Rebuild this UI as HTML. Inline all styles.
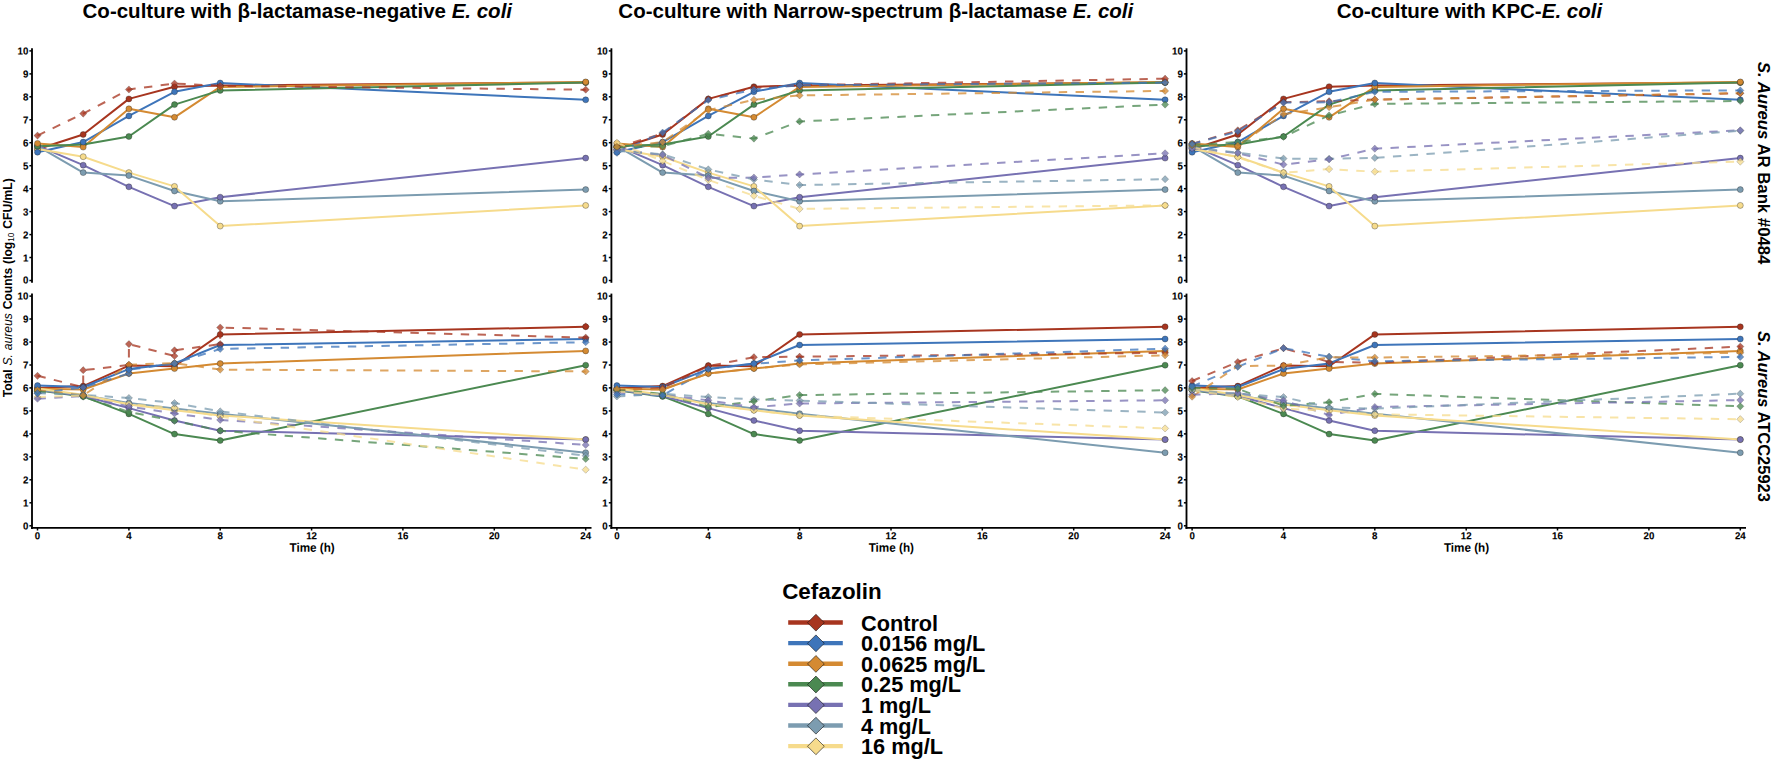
<!DOCTYPE html>
<html lang="en"><head><meta charset="utf-8"><title>Cefazolin co-culture time-kill curves</title>
<style>html,body{margin:0;padding:0;background:#fff}body{width:1772px;height:762px;overflow:hidden}svg{display:block}</style></head>
<body>
<svg width="1772" height="762" viewBox="0 0 1772 762" font-family="'Liberation Sans', sans-serif" font-weight="bold" fill="#000">
<rect width="1772" height="762" fill="#fff"/>
<polyline points="37.5,149.2 83.2,134.5 128.9,98.9 174.5,86.7 220.2,85.6 585.7,82.4" fill="none" stroke="#A7351F" stroke-width="2.0" stroke-linejoin="round"/>
<polyline points="37.5,152.2 83.2,142.1 128.9,115.9 174.5,91.8 220.2,83.0 585.7,99.8" fill="none" stroke="#3E75BA" stroke-width="2.0" stroke-linejoin="round"/>
<polyline points="37.5,143.4 83.2,147.1 128.9,108.8 174.5,117.3 220.2,86.9 585.7,81.9" fill="none" stroke="#D48A32" stroke-width="2.0" stroke-linejoin="round"/>
<polyline points="37.5,146.2 83.2,144.6 128.9,136.5 174.5,104.6 220.2,90.4 585.7,82.6" fill="none" stroke="#4B8951" stroke-width="2.0" stroke-linejoin="round"/>
<polyline points="37.5,145.7 83.2,165.2 128.9,186.8 174.5,206.1 220.2,197.2 585.7,158.1" fill="none" stroke="#7771B2" stroke-width="2.0" stroke-linejoin="round"/>
<polyline points="37.5,146.2 83.2,172.6 128.9,175.6 174.5,191.0 220.2,201.3 585.7,189.6" fill="none" stroke="#7C9CB0" stroke-width="2.0" stroke-linejoin="round"/>
<polyline points="37.5,148.9 83.2,156.7 128.9,172.6 174.5,186.4 220.2,226.1 585.7,205.4" fill="none" stroke="#F6DB8C" stroke-width="2.0" stroke-linejoin="round"/>
<circle cx="37.5" cy="149.2" r="3.0" fill="#A7351F" stroke="#222" stroke-width="0.35"/>
<circle cx="83.2" cy="134.5" r="3.0" fill="#A7351F" stroke="#222" stroke-width="0.35"/>
<circle cx="128.9" cy="98.9" r="3.0" fill="#A7351F" stroke="#222" stroke-width="0.35"/>
<circle cx="174.5" cy="86.7" r="3.0" fill="#A7351F" stroke="#222" stroke-width="0.35"/>
<circle cx="220.2" cy="85.6" r="3.0" fill="#A7351F" stroke="#222" stroke-width="0.35"/>
<circle cx="585.7" cy="82.4" r="3.0" fill="#A7351F" stroke="#222" stroke-width="0.35"/>
<circle cx="37.5" cy="148.9" r="3.0" fill="#F6DB8C" stroke="#222" stroke-width="0.35"/>
<circle cx="83.2" cy="156.7" r="3.0" fill="#F6DB8C" stroke="#222" stroke-width="0.35"/>
<circle cx="128.9" cy="172.6" r="3.0" fill="#F6DB8C" stroke="#222" stroke-width="0.35"/>
<circle cx="174.5" cy="186.4" r="3.0" fill="#F6DB8C" stroke="#222" stroke-width="0.35"/>
<circle cx="220.2" cy="226.1" r="3.0" fill="#F6DB8C" stroke="#222" stroke-width="0.35"/>
<circle cx="585.7" cy="205.4" r="3.0" fill="#F6DB8C" stroke="#222" stroke-width="0.35"/>
<circle cx="37.5" cy="146.2" r="3.0" fill="#7C9CB0" stroke="#222" stroke-width="0.35"/>
<circle cx="83.2" cy="172.6" r="3.0" fill="#7C9CB0" stroke="#222" stroke-width="0.35"/>
<circle cx="128.9" cy="175.6" r="3.0" fill="#7C9CB0" stroke="#222" stroke-width="0.35"/>
<circle cx="174.5" cy="191.0" r="3.0" fill="#7C9CB0" stroke="#222" stroke-width="0.35"/>
<circle cx="220.2" cy="201.3" r="3.0" fill="#7C9CB0" stroke="#222" stroke-width="0.35"/>
<circle cx="585.7" cy="189.6" r="3.0" fill="#7C9CB0" stroke="#222" stroke-width="0.35"/>
<circle cx="37.5" cy="145.7" r="3.0" fill="#7771B2" stroke="#222" stroke-width="0.35"/>
<circle cx="83.2" cy="165.2" r="3.0" fill="#7771B2" stroke="#222" stroke-width="0.35"/>
<circle cx="128.9" cy="186.8" r="3.0" fill="#7771B2" stroke="#222" stroke-width="0.35"/>
<circle cx="174.5" cy="206.1" r="3.0" fill="#7771B2" stroke="#222" stroke-width="0.35"/>
<circle cx="220.2" cy="197.2" r="3.0" fill="#7771B2" stroke="#222" stroke-width="0.35"/>
<circle cx="585.7" cy="158.1" r="3.0" fill="#7771B2" stroke="#222" stroke-width="0.35"/>
<circle cx="37.5" cy="146.2" r="3.0" fill="#4B8951" stroke="#222" stroke-width="0.35"/>
<circle cx="83.2" cy="144.6" r="3.0" fill="#4B8951" stroke="#222" stroke-width="0.35"/>
<circle cx="128.9" cy="136.5" r="3.0" fill="#4B8951" stroke="#222" stroke-width="0.35"/>
<circle cx="174.5" cy="104.6" r="3.0" fill="#4B8951" stroke="#222" stroke-width="0.35"/>
<circle cx="220.2" cy="90.4" r="3.0" fill="#4B8951" stroke="#222" stroke-width="0.35"/>
<circle cx="585.7" cy="82.6" r="3.0" fill="#4B8951" stroke="#222" stroke-width="0.35"/>
<circle cx="37.5" cy="143.4" r="3.0" fill="#D48A32" stroke="#222" stroke-width="0.35"/>
<circle cx="83.2" cy="147.1" r="3.0" fill="#D48A32" stroke="#222" stroke-width="0.35"/>
<circle cx="128.9" cy="108.8" r="3.0" fill="#D48A32" stroke="#222" stroke-width="0.35"/>
<circle cx="174.5" cy="117.3" r="3.0" fill="#D48A32" stroke="#222" stroke-width="0.35"/>
<circle cx="220.2" cy="86.9" r="3.0" fill="#D48A32" stroke="#222" stroke-width="0.35"/>
<circle cx="585.7" cy="81.9" r="3.0" fill="#D48A32" stroke="#222" stroke-width="0.35"/>
<circle cx="37.5" cy="152.2" r="3.0" fill="#3E75BA" stroke="#222" stroke-width="0.35"/>
<circle cx="83.2" cy="142.1" r="3.0" fill="#3E75BA" stroke="#222" stroke-width="0.35"/>
<circle cx="128.9" cy="115.9" r="3.0" fill="#3E75BA" stroke="#222" stroke-width="0.35"/>
<circle cx="174.5" cy="91.8" r="3.0" fill="#3E75BA" stroke="#222" stroke-width="0.35"/>
<circle cx="220.2" cy="83.0" r="3.0" fill="#3E75BA" stroke="#222" stroke-width="0.35"/>
<circle cx="585.7" cy="99.8" r="3.0" fill="#3E75BA" stroke="#222" stroke-width="0.35"/>
<g>
<polyline points="37.5,135.6 83.2,113.6 128.9,89.5 174.5,83.5 220.2,85.8 585.7,89.7" fill="none" stroke="#A7351F" stroke-width="2.0" stroke-dasharray="8.4 8.4" stroke-opacity="0.76"/>
<path d="M37.5 132.0L41.1 135.6L37.5 139.2L33.9 135.6Z" fill="#A7351F" fill-opacity="0.76" stroke="#222" stroke-opacity="0.6" stroke-width="0.35"/>
<path d="M83.2 110.0L86.8 113.6L83.2 117.2L79.6 113.6Z" fill="#A7351F" fill-opacity="0.76" stroke="#222" stroke-opacity="0.6" stroke-width="0.35"/>
<path d="M128.9 85.9L132.5 89.5L128.9 93.1L125.3 89.5Z" fill="#A7351F" fill-opacity="0.76" stroke="#222" stroke-opacity="0.6" stroke-width="0.35"/>
<path d="M174.5 79.9L178.1 83.5L174.5 87.1L170.9 83.5Z" fill="#A7351F" fill-opacity="0.76" stroke="#222" stroke-opacity="0.6" stroke-width="0.35"/>
<path d="M220.2 82.2L223.8 85.8L220.2 89.4L216.6 85.8Z" fill="#A7351F" fill-opacity="0.76" stroke="#222" stroke-opacity="0.6" stroke-width="0.35"/>
<path d="M585.7 86.1L589.3 89.7L585.7 93.3L582.1 89.7Z" fill="#A7351F" fill-opacity="0.76" stroke="#222" stroke-opacity="0.6" stroke-width="0.35"/>
</g>
<path d="M32.0 48.3V282.8" stroke="#000" stroke-width="1.85" fill="none"/>
<path d="M32.0 280.5h-2.6" stroke="#000" stroke-width="1.5"/>
<text transform="translate(28.3 283.5) rotate(0.05) scale(1 1.05)" font-size="9.7" text-anchor="end" stroke="#000" stroke-width="0.12">0</text>
<path d="M32.0 257.5h-2.6" stroke="#000" stroke-width="1.5"/>
<text transform="translate(28.3 261.5) rotate(0.05) scale(1 1.05)" font-size="9.7" text-anchor="end" stroke="#000" stroke-width="0.12">1</text>
<path d="M32.0 234.6h-2.6" stroke="#000" stroke-width="1.5"/>
<text transform="translate(28.3 238.5) rotate(0.05) scale(1 1.05)" font-size="9.7" text-anchor="end" stroke="#000" stroke-width="0.12">2</text>
<path d="M32.0 211.6h-2.6" stroke="#000" stroke-width="1.5"/>
<text transform="translate(28.3 215.5) rotate(0.05) scale(1 1.05)" font-size="9.7" text-anchor="end" stroke="#000" stroke-width="0.12">3</text>
<path d="M32.0 188.7h-2.6" stroke="#000" stroke-width="1.5"/>
<text transform="translate(28.3 192.5) rotate(0.05) scale(1 1.05)" font-size="9.7" text-anchor="end" stroke="#000" stroke-width="0.12">4</text>
<path d="M32.0 165.7h-2.6" stroke="#000" stroke-width="1.5"/>
<text transform="translate(28.3 169.5) rotate(0.05) scale(1 1.05)" font-size="9.7" text-anchor="end" stroke="#000" stroke-width="0.12">5</text>
<path d="M32.0 142.7h-2.6" stroke="#000" stroke-width="1.5"/>
<text transform="translate(28.3 146.5) rotate(0.05) scale(1 1.05)" font-size="9.7" text-anchor="end" stroke="#000" stroke-width="0.12">6</text>
<path d="M32.0 119.8h-2.6" stroke="#000" stroke-width="1.5"/>
<text transform="translate(28.3 123.5) rotate(0.05) scale(1 1.05)" font-size="9.7" text-anchor="end" stroke="#000" stroke-width="0.12">7</text>
<path d="M32.0 96.8h-2.6" stroke="#000" stroke-width="1.5"/>
<text transform="translate(28.3 100.5) rotate(0.05) scale(1 1.05)" font-size="9.7" text-anchor="end" stroke="#000" stroke-width="0.12">8</text>
<path d="M32.0 73.9h-2.6" stroke="#000" stroke-width="1.5"/>
<text transform="translate(28.3 77.5) rotate(0.05) scale(1 1.05)" font-size="9.7" text-anchor="end" stroke="#000" stroke-width="0.12">9</text>
<path d="M32.0 50.9h-2.6" stroke="#000" stroke-width="1.5"/>
<text transform="translate(28.3 54.5) rotate(0.05) scale(1 1.05)" font-size="9.7" text-anchor="end" stroke="#000" stroke-width="0.12">10</text>
<polyline points="616.9,149.2 662.6,134.5 708.3,98.9 753.9,86.7 799.6,85.6 1165.1,82.4" fill="none" stroke="#A7351F" stroke-width="2.0" stroke-linejoin="round"/>
<polyline points="616.9,152.2 662.6,142.1 708.3,115.9 753.9,91.8 799.6,83.0 1165.1,99.8" fill="none" stroke="#3E75BA" stroke-width="2.0" stroke-linejoin="round"/>
<polyline points="616.9,143.4 662.6,147.1 708.3,108.8 753.9,117.3 799.6,86.9 1165.1,81.9" fill="none" stroke="#D48A32" stroke-width="2.0" stroke-linejoin="round"/>
<polyline points="616.9,146.2 662.6,144.6 708.3,136.5 753.9,104.6 799.6,90.4 1165.1,82.6" fill="none" stroke="#4B8951" stroke-width="2.0" stroke-linejoin="round"/>
<polyline points="616.9,145.7 662.6,165.2 708.3,186.8 753.9,206.1 799.6,197.2 1165.1,158.1" fill="none" stroke="#7771B2" stroke-width="2.0" stroke-linejoin="round"/>
<polyline points="616.9,146.2 662.6,172.6 708.3,175.6 753.9,191.0 799.6,201.3 1165.1,189.6" fill="none" stroke="#7C9CB0" stroke-width="2.0" stroke-linejoin="round"/>
<polyline points="616.9,148.9 662.6,156.7 708.3,172.6 753.9,186.4 799.6,226.1 1165.1,205.4" fill="none" stroke="#F6DB8C" stroke-width="2.0" stroke-linejoin="round"/>
<circle cx="616.9" cy="149.2" r="3.0" fill="#A7351F" stroke="#222" stroke-width="0.35"/>
<circle cx="662.6" cy="134.5" r="3.0" fill="#A7351F" stroke="#222" stroke-width="0.35"/>
<circle cx="708.3" cy="98.9" r="3.0" fill="#A7351F" stroke="#222" stroke-width="0.35"/>
<circle cx="753.9" cy="86.7" r="3.0" fill="#A7351F" stroke="#222" stroke-width="0.35"/>
<circle cx="799.6" cy="85.6" r="3.0" fill="#A7351F" stroke="#222" stroke-width="0.35"/>
<circle cx="1165.1" cy="82.4" r="3.0" fill="#A7351F" stroke="#222" stroke-width="0.35"/>
<circle cx="616.9" cy="148.9" r="3.0" fill="#F6DB8C" stroke="#222" stroke-width="0.35"/>
<circle cx="662.6" cy="156.7" r="3.0" fill="#F6DB8C" stroke="#222" stroke-width="0.35"/>
<circle cx="708.3" cy="172.6" r="3.0" fill="#F6DB8C" stroke="#222" stroke-width="0.35"/>
<circle cx="753.9" cy="186.4" r="3.0" fill="#F6DB8C" stroke="#222" stroke-width="0.35"/>
<circle cx="799.6" cy="226.1" r="3.0" fill="#F6DB8C" stroke="#222" stroke-width="0.35"/>
<circle cx="1165.1" cy="205.4" r="3.0" fill="#F6DB8C" stroke="#222" stroke-width="0.35"/>
<circle cx="616.9" cy="146.2" r="3.0" fill="#7C9CB0" stroke="#222" stroke-width="0.35"/>
<circle cx="662.6" cy="172.6" r="3.0" fill="#7C9CB0" stroke="#222" stroke-width="0.35"/>
<circle cx="708.3" cy="175.6" r="3.0" fill="#7C9CB0" stroke="#222" stroke-width="0.35"/>
<circle cx="753.9" cy="191.0" r="3.0" fill="#7C9CB0" stroke="#222" stroke-width="0.35"/>
<circle cx="799.6" cy="201.3" r="3.0" fill="#7C9CB0" stroke="#222" stroke-width="0.35"/>
<circle cx="1165.1" cy="189.6" r="3.0" fill="#7C9CB0" stroke="#222" stroke-width="0.35"/>
<circle cx="616.9" cy="145.7" r="3.0" fill="#7771B2" stroke="#222" stroke-width="0.35"/>
<circle cx="662.6" cy="165.2" r="3.0" fill="#7771B2" stroke="#222" stroke-width="0.35"/>
<circle cx="708.3" cy="186.8" r="3.0" fill="#7771B2" stroke="#222" stroke-width="0.35"/>
<circle cx="753.9" cy="206.1" r="3.0" fill="#7771B2" stroke="#222" stroke-width="0.35"/>
<circle cx="799.6" cy="197.2" r="3.0" fill="#7771B2" stroke="#222" stroke-width="0.35"/>
<circle cx="1165.1" cy="158.1" r="3.0" fill="#7771B2" stroke="#222" stroke-width="0.35"/>
<circle cx="616.9" cy="146.2" r="3.0" fill="#4B8951" stroke="#222" stroke-width="0.35"/>
<circle cx="662.6" cy="144.6" r="3.0" fill="#4B8951" stroke="#222" stroke-width="0.35"/>
<circle cx="708.3" cy="136.5" r="3.0" fill="#4B8951" stroke="#222" stroke-width="0.35"/>
<circle cx="753.9" cy="104.6" r="3.0" fill="#4B8951" stroke="#222" stroke-width="0.35"/>
<circle cx="799.6" cy="90.4" r="3.0" fill="#4B8951" stroke="#222" stroke-width="0.35"/>
<circle cx="1165.1" cy="82.6" r="3.0" fill="#4B8951" stroke="#222" stroke-width="0.35"/>
<circle cx="616.9" cy="143.4" r="3.0" fill="#D48A32" stroke="#222" stroke-width="0.35"/>
<circle cx="662.6" cy="147.1" r="3.0" fill="#D48A32" stroke="#222" stroke-width="0.35"/>
<circle cx="708.3" cy="108.8" r="3.0" fill="#D48A32" stroke="#222" stroke-width="0.35"/>
<circle cx="753.9" cy="117.3" r="3.0" fill="#D48A32" stroke="#222" stroke-width="0.35"/>
<circle cx="799.6" cy="86.9" r="3.0" fill="#D48A32" stroke="#222" stroke-width="0.35"/>
<circle cx="1165.1" cy="81.9" r="3.0" fill="#D48A32" stroke="#222" stroke-width="0.35"/>
<circle cx="616.9" cy="152.2" r="3.0" fill="#3E75BA" stroke="#222" stroke-width="0.35"/>
<circle cx="662.6" cy="142.1" r="3.0" fill="#3E75BA" stroke="#222" stroke-width="0.35"/>
<circle cx="708.3" cy="115.9" r="3.0" fill="#3E75BA" stroke="#222" stroke-width="0.35"/>
<circle cx="753.9" cy="91.8" r="3.0" fill="#3E75BA" stroke="#222" stroke-width="0.35"/>
<circle cx="799.6" cy="83.0" r="3.0" fill="#3E75BA" stroke="#222" stroke-width="0.35"/>
<circle cx="1165.1" cy="99.8" r="3.0" fill="#3E75BA" stroke="#222" stroke-width="0.35"/>
<g>
<polyline points="616.9,147.3 662.6,133.6 708.3,99.1 753.9,87.6 799.6,85.3 1165.1,78.7" fill="none" stroke="#A7351F" stroke-width="2.0" stroke-dasharray="8.4 8.4" stroke-opacity="0.76"/>
<polyline points="616.9,152.8 662.6,132.6 708.3,100.0 753.9,89.5 799.6,85.3 1165.1,82.6" fill="none" stroke="#3E75BA" stroke-width="2.0" stroke-dasharray="8.4 8.4" stroke-opacity="0.76"/>
<polyline points="616.9,146.9 662.6,142.1 708.3,110.1 753.9,99.8 799.6,95.4 1165.1,90.9" fill="none" stroke="#D48A32" stroke-width="2.0" stroke-dasharray="8.4 8.4" stroke-opacity="0.76"/>
<polyline points="616.9,147.3 662.6,146.2 708.3,133.8 753.9,138.6 799.6,121.4 1165.1,104.6" fill="none" stroke="#4B8951" stroke-width="2.0" stroke-dasharray="8.4 8.4" stroke-opacity="0.76"/>
<polyline points="616.9,149.6 662.6,154.9 708.3,177.9 753.9,177.6 799.6,174.4 1165.1,153.3" fill="none" stroke="#7771B2" stroke-width="2.0" stroke-dasharray="8.4 8.4" stroke-opacity="0.76"/>
<polyline points="616.9,150.8 662.6,154.2 708.3,169.4 753.9,179.5 799.6,185.0 1165.1,179.2" fill="none" stroke="#7C9CB0" stroke-width="2.0" stroke-dasharray="8.4 8.4" stroke-opacity="0.76"/>
<polyline points="616.9,142.7 662.6,160.9 708.3,179.9 753.9,195.8 799.6,208.9 1165.1,205.4" fill="none" stroke="#F6DB8C" stroke-width="2.0" stroke-dasharray="8.4 8.4" stroke-opacity="0.76"/>
<path d="M616.9 143.7L620.5 147.3L616.9 150.9L613.3 147.3Z" fill="#A7351F" fill-opacity="0.76" stroke="#222" stroke-opacity="0.6" stroke-width="0.35"/>
<path d="M662.6 130.0L666.2 133.6L662.6 137.2L659.0 133.6Z" fill="#A7351F" fill-opacity="0.76" stroke="#222" stroke-opacity="0.6" stroke-width="0.35"/>
<path d="M708.3 95.5L711.9 99.1L708.3 102.7L704.7 99.1Z" fill="#A7351F" fill-opacity="0.76" stroke="#222" stroke-opacity="0.6" stroke-width="0.35"/>
<path d="M753.9 84.0L757.5 87.6L753.9 91.2L750.3 87.6Z" fill="#A7351F" fill-opacity="0.76" stroke="#222" stroke-opacity="0.6" stroke-width="0.35"/>
<path d="M799.6 81.7L803.2 85.3L799.6 88.9L796.0 85.3Z" fill="#A7351F" fill-opacity="0.76" stroke="#222" stroke-opacity="0.6" stroke-width="0.35"/>
<path d="M1165.1 75.1L1168.7 78.7L1165.1 82.3L1161.5 78.7Z" fill="#A7351F" fill-opacity="0.76" stroke="#222" stroke-opacity="0.6" stroke-width="0.35"/>
<path d="M616.9 139.1L620.5 142.7L616.9 146.3L613.3 142.7Z" fill="#F6DB8C" fill-opacity="0.76" stroke="#222" stroke-opacity="0.6" stroke-width="0.35"/>
<path d="M662.6 157.3L666.2 160.9L662.6 164.5L659.0 160.9Z" fill="#F6DB8C" fill-opacity="0.76" stroke="#222" stroke-opacity="0.6" stroke-width="0.35"/>
<path d="M708.3 176.3L711.9 179.9L708.3 183.5L704.7 179.9Z" fill="#F6DB8C" fill-opacity="0.76" stroke="#222" stroke-opacity="0.6" stroke-width="0.35"/>
<path d="M753.9 192.2L757.5 195.8L753.9 199.4L750.3 195.8Z" fill="#F6DB8C" fill-opacity="0.76" stroke="#222" stroke-opacity="0.6" stroke-width="0.35"/>
<path d="M799.6 205.3L803.2 208.9L799.6 212.5L796.0 208.9Z" fill="#F6DB8C" fill-opacity="0.76" stroke="#222" stroke-opacity="0.6" stroke-width="0.35"/>
<path d="M1165.1 201.8L1168.7 205.4L1165.1 209.0L1161.5 205.4Z" fill="#F6DB8C" fill-opacity="0.76" stroke="#222" stroke-opacity="0.6" stroke-width="0.35"/>
<path d="M616.9 147.2L620.5 150.8L616.9 154.4L613.3 150.8Z" fill="#7C9CB0" fill-opacity="0.76" stroke="#222" stroke-opacity="0.6" stroke-width="0.35"/>
<path d="M662.6 150.6L666.2 154.2L662.6 157.8L659.0 154.2Z" fill="#7C9CB0" fill-opacity="0.76" stroke="#222" stroke-opacity="0.6" stroke-width="0.35"/>
<path d="M708.3 165.8L711.9 169.4L708.3 173.0L704.7 169.4Z" fill="#7C9CB0" fill-opacity="0.76" stroke="#222" stroke-opacity="0.6" stroke-width="0.35"/>
<path d="M753.9 175.9L757.5 179.5L753.9 183.1L750.3 179.5Z" fill="#7C9CB0" fill-opacity="0.76" stroke="#222" stroke-opacity="0.6" stroke-width="0.35"/>
<path d="M799.6 181.4L803.2 185.0L799.6 188.6L796.0 185.0Z" fill="#7C9CB0" fill-opacity="0.76" stroke="#222" stroke-opacity="0.6" stroke-width="0.35"/>
<path d="M1165.1 175.6L1168.7 179.2L1165.1 182.8L1161.5 179.2Z" fill="#7C9CB0" fill-opacity="0.76" stroke="#222" stroke-opacity="0.6" stroke-width="0.35"/>
<path d="M616.9 146.0L620.5 149.6L616.9 153.2L613.3 149.6Z" fill="#7771B2" fill-opacity="0.76" stroke="#222" stroke-opacity="0.6" stroke-width="0.35"/>
<path d="M662.6 151.3L666.2 154.9L662.6 158.5L659.0 154.9Z" fill="#7771B2" fill-opacity="0.76" stroke="#222" stroke-opacity="0.6" stroke-width="0.35"/>
<path d="M708.3 174.3L711.9 177.9L708.3 181.5L704.7 177.9Z" fill="#7771B2" fill-opacity="0.76" stroke="#222" stroke-opacity="0.6" stroke-width="0.35"/>
<path d="M753.9 174.0L757.5 177.6L753.9 181.2L750.3 177.6Z" fill="#7771B2" fill-opacity="0.76" stroke="#222" stroke-opacity="0.6" stroke-width="0.35"/>
<path d="M799.6 170.8L803.2 174.4L799.6 178.0L796.0 174.4Z" fill="#7771B2" fill-opacity="0.76" stroke="#222" stroke-opacity="0.6" stroke-width="0.35"/>
<path d="M1165.1 149.7L1168.7 153.3L1165.1 156.9L1161.5 153.3Z" fill="#7771B2" fill-opacity="0.76" stroke="#222" stroke-opacity="0.6" stroke-width="0.35"/>
<path d="M616.9 143.7L620.5 147.3L616.9 150.9L613.3 147.3Z" fill="#4B8951" fill-opacity="0.76" stroke="#222" stroke-opacity="0.6" stroke-width="0.35"/>
<path d="M662.6 142.6L666.2 146.2L662.6 149.8L659.0 146.2Z" fill="#4B8951" fill-opacity="0.76" stroke="#222" stroke-opacity="0.6" stroke-width="0.35"/>
<path d="M708.3 130.2L711.9 133.8L708.3 137.4L704.7 133.8Z" fill="#4B8951" fill-opacity="0.76" stroke="#222" stroke-opacity="0.6" stroke-width="0.35"/>
<path d="M753.9 135.0L757.5 138.6L753.9 142.2L750.3 138.6Z" fill="#4B8951" fill-opacity="0.76" stroke="#222" stroke-opacity="0.6" stroke-width="0.35"/>
<path d="M799.6 117.8L803.2 121.4L799.6 125.0L796.0 121.4Z" fill="#4B8951" fill-opacity="0.76" stroke="#222" stroke-opacity="0.6" stroke-width="0.35"/>
<path d="M1165.1 101.0L1168.7 104.6L1165.1 108.2L1161.5 104.6Z" fill="#4B8951" fill-opacity="0.76" stroke="#222" stroke-opacity="0.6" stroke-width="0.35"/>
<path d="M616.9 143.3L620.5 146.9L616.9 150.5L613.3 146.9Z" fill="#D48A32" fill-opacity="0.76" stroke="#222" stroke-opacity="0.6" stroke-width="0.35"/>
<path d="M662.6 138.5L666.2 142.1L662.6 145.7L659.0 142.1Z" fill="#D48A32" fill-opacity="0.76" stroke="#222" stroke-opacity="0.6" stroke-width="0.35"/>
<path d="M708.3 106.5L711.9 110.1L708.3 113.7L704.7 110.1Z" fill="#D48A32" fill-opacity="0.76" stroke="#222" stroke-opacity="0.6" stroke-width="0.35"/>
<path d="M753.9 96.2L757.5 99.8L753.9 103.4L750.3 99.8Z" fill="#D48A32" fill-opacity="0.76" stroke="#222" stroke-opacity="0.6" stroke-width="0.35"/>
<path d="M799.6 91.8L803.2 95.4L799.6 99.0L796.0 95.4Z" fill="#D48A32" fill-opacity="0.76" stroke="#222" stroke-opacity="0.6" stroke-width="0.35"/>
<path d="M1165.1 87.3L1168.7 90.9L1165.1 94.5L1161.5 90.9Z" fill="#D48A32" fill-opacity="0.76" stroke="#222" stroke-opacity="0.6" stroke-width="0.35"/>
<path d="M616.9 149.2L620.5 152.8L616.9 156.4L613.3 152.8Z" fill="#3E75BA" fill-opacity="0.76" stroke="#222" stroke-opacity="0.6" stroke-width="0.35"/>
<path d="M662.6 129.0L666.2 132.6L662.6 136.2L659.0 132.6Z" fill="#3E75BA" fill-opacity="0.76" stroke="#222" stroke-opacity="0.6" stroke-width="0.35"/>
<path d="M708.3 96.4L711.9 100.0L708.3 103.6L704.7 100.0Z" fill="#3E75BA" fill-opacity="0.76" stroke="#222" stroke-opacity="0.6" stroke-width="0.35"/>
<path d="M753.9 85.9L757.5 89.5L753.9 93.1L750.3 89.5Z" fill="#3E75BA" fill-opacity="0.76" stroke="#222" stroke-opacity="0.6" stroke-width="0.35"/>
<path d="M799.6 81.7L803.2 85.3L799.6 88.9L796.0 85.3Z" fill="#3E75BA" fill-opacity="0.76" stroke="#222" stroke-opacity="0.6" stroke-width="0.35"/>
<path d="M1165.1 79.0L1168.7 82.6L1165.1 86.2L1161.5 82.6Z" fill="#3E75BA" fill-opacity="0.76" stroke="#222" stroke-opacity="0.6" stroke-width="0.35"/>
</g>
<path d="M611.4 48.3V282.8" stroke="#000" stroke-width="1.85" fill="none"/>
<path d="M611.4 280.5h-2.6" stroke="#000" stroke-width="1.5"/>
<text transform="translate(607.7 283.5) rotate(0.05) scale(1 1.05)" font-size="9.7" text-anchor="end" stroke="#000" stroke-width="0.12">0</text>
<path d="M611.4 257.5h-2.6" stroke="#000" stroke-width="1.5"/>
<text transform="translate(607.7 261.5) rotate(0.05) scale(1 1.05)" font-size="9.7" text-anchor="end" stroke="#000" stroke-width="0.12">1</text>
<path d="M611.4 234.6h-2.6" stroke="#000" stroke-width="1.5"/>
<text transform="translate(607.7 238.5) rotate(0.05) scale(1 1.05)" font-size="9.7" text-anchor="end" stroke="#000" stroke-width="0.12">2</text>
<path d="M611.4 211.6h-2.6" stroke="#000" stroke-width="1.5"/>
<text transform="translate(607.7 215.5) rotate(0.05) scale(1 1.05)" font-size="9.7" text-anchor="end" stroke="#000" stroke-width="0.12">3</text>
<path d="M611.4 188.7h-2.6" stroke="#000" stroke-width="1.5"/>
<text transform="translate(607.7 192.5) rotate(0.05) scale(1 1.05)" font-size="9.7" text-anchor="end" stroke="#000" stroke-width="0.12">4</text>
<path d="M611.4 165.7h-2.6" stroke="#000" stroke-width="1.5"/>
<text transform="translate(607.7 169.5) rotate(0.05) scale(1 1.05)" font-size="9.7" text-anchor="end" stroke="#000" stroke-width="0.12">5</text>
<path d="M611.4 142.7h-2.6" stroke="#000" stroke-width="1.5"/>
<text transform="translate(607.7 146.5) rotate(0.05) scale(1 1.05)" font-size="9.7" text-anchor="end" stroke="#000" stroke-width="0.12">6</text>
<path d="M611.4 119.8h-2.6" stroke="#000" stroke-width="1.5"/>
<text transform="translate(607.7 123.5) rotate(0.05) scale(1 1.05)" font-size="9.7" text-anchor="end" stroke="#000" stroke-width="0.12">7</text>
<path d="M611.4 96.8h-2.6" stroke="#000" stroke-width="1.5"/>
<text transform="translate(607.7 100.5) rotate(0.05) scale(1 1.05)" font-size="9.7" text-anchor="end" stroke="#000" stroke-width="0.12">8</text>
<path d="M611.4 73.9h-2.6" stroke="#000" stroke-width="1.5"/>
<text transform="translate(607.7 77.5) rotate(0.05) scale(1 1.05)" font-size="9.7" text-anchor="end" stroke="#000" stroke-width="0.12">9</text>
<path d="M611.4 50.9h-2.6" stroke="#000" stroke-width="1.5"/>
<text transform="translate(607.7 54.5) rotate(0.05) scale(1 1.05)" font-size="9.7" text-anchor="end" stroke="#000" stroke-width="0.12">10</text>
<polyline points="1192.1,149.2 1237.8,134.5 1283.5,98.9 1329.1,86.7 1374.8,85.6 1740.3,82.4" fill="none" stroke="#A7351F" stroke-width="2.0" stroke-linejoin="round"/>
<polyline points="1192.1,152.2 1237.8,142.1 1283.5,115.9 1329.1,91.8 1374.8,83.0 1740.3,99.8" fill="none" stroke="#3E75BA" stroke-width="2.0" stroke-linejoin="round"/>
<polyline points="1192.1,143.4 1237.8,147.1 1283.5,108.8 1329.1,117.3 1374.8,86.9 1740.3,81.9" fill="none" stroke="#D48A32" stroke-width="2.0" stroke-linejoin="round"/>
<polyline points="1192.1,146.2 1237.8,144.6 1283.5,136.5 1329.1,104.6 1374.8,90.4 1740.3,82.6" fill="none" stroke="#4B8951" stroke-width="2.0" stroke-linejoin="round"/>
<polyline points="1192.1,145.7 1237.8,165.2 1283.5,186.8 1329.1,206.1 1374.8,197.2 1740.3,158.1" fill="none" stroke="#7771B2" stroke-width="2.0" stroke-linejoin="round"/>
<polyline points="1192.1,146.2 1237.8,172.6 1283.5,175.6 1329.1,191.0 1374.8,201.3 1740.3,189.6" fill="none" stroke="#7C9CB0" stroke-width="2.0" stroke-linejoin="round"/>
<polyline points="1192.1,148.9 1237.8,156.7 1283.5,172.6 1329.1,186.4 1374.8,226.1 1740.3,205.4" fill="none" stroke="#F6DB8C" stroke-width="2.0" stroke-linejoin="round"/>
<circle cx="1192.1" cy="149.2" r="3.0" fill="#A7351F" stroke="#222" stroke-width="0.35"/>
<circle cx="1237.8" cy="134.5" r="3.0" fill="#A7351F" stroke="#222" stroke-width="0.35"/>
<circle cx="1283.5" cy="98.9" r="3.0" fill="#A7351F" stroke="#222" stroke-width="0.35"/>
<circle cx="1329.1" cy="86.7" r="3.0" fill="#A7351F" stroke="#222" stroke-width="0.35"/>
<circle cx="1374.8" cy="85.6" r="3.0" fill="#A7351F" stroke="#222" stroke-width="0.35"/>
<circle cx="1740.3" cy="82.4" r="3.0" fill="#A7351F" stroke="#222" stroke-width="0.35"/>
<circle cx="1192.1" cy="148.9" r="3.0" fill="#F6DB8C" stroke="#222" stroke-width="0.35"/>
<circle cx="1237.8" cy="156.7" r="3.0" fill="#F6DB8C" stroke="#222" stroke-width="0.35"/>
<circle cx="1283.5" cy="172.6" r="3.0" fill="#F6DB8C" stroke="#222" stroke-width="0.35"/>
<circle cx="1329.1" cy="186.4" r="3.0" fill="#F6DB8C" stroke="#222" stroke-width="0.35"/>
<circle cx="1374.8" cy="226.1" r="3.0" fill="#F6DB8C" stroke="#222" stroke-width="0.35"/>
<circle cx="1740.3" cy="205.4" r="3.0" fill="#F6DB8C" stroke="#222" stroke-width="0.35"/>
<circle cx="1192.1" cy="146.2" r="3.0" fill="#7C9CB0" stroke="#222" stroke-width="0.35"/>
<circle cx="1237.8" cy="172.6" r="3.0" fill="#7C9CB0" stroke="#222" stroke-width="0.35"/>
<circle cx="1283.5" cy="175.6" r="3.0" fill="#7C9CB0" stroke="#222" stroke-width="0.35"/>
<circle cx="1329.1" cy="191.0" r="3.0" fill="#7C9CB0" stroke="#222" stroke-width="0.35"/>
<circle cx="1374.8" cy="201.3" r="3.0" fill="#7C9CB0" stroke="#222" stroke-width="0.35"/>
<circle cx="1740.3" cy="189.6" r="3.0" fill="#7C9CB0" stroke="#222" stroke-width="0.35"/>
<circle cx="1192.1" cy="145.7" r="3.0" fill="#7771B2" stroke="#222" stroke-width="0.35"/>
<circle cx="1237.8" cy="165.2" r="3.0" fill="#7771B2" stroke="#222" stroke-width="0.35"/>
<circle cx="1283.5" cy="186.8" r="3.0" fill="#7771B2" stroke="#222" stroke-width="0.35"/>
<circle cx="1329.1" cy="206.1" r="3.0" fill="#7771B2" stroke="#222" stroke-width="0.35"/>
<circle cx="1374.8" cy="197.2" r="3.0" fill="#7771B2" stroke="#222" stroke-width="0.35"/>
<circle cx="1740.3" cy="158.1" r="3.0" fill="#7771B2" stroke="#222" stroke-width="0.35"/>
<circle cx="1192.1" cy="146.2" r="3.0" fill="#4B8951" stroke="#222" stroke-width="0.35"/>
<circle cx="1237.8" cy="144.6" r="3.0" fill="#4B8951" stroke="#222" stroke-width="0.35"/>
<circle cx="1283.5" cy="136.5" r="3.0" fill="#4B8951" stroke="#222" stroke-width="0.35"/>
<circle cx="1329.1" cy="104.6" r="3.0" fill="#4B8951" stroke="#222" stroke-width="0.35"/>
<circle cx="1374.8" cy="90.4" r="3.0" fill="#4B8951" stroke="#222" stroke-width="0.35"/>
<circle cx="1740.3" cy="82.6" r="3.0" fill="#4B8951" stroke="#222" stroke-width="0.35"/>
<circle cx="1192.1" cy="143.4" r="3.0" fill="#D48A32" stroke="#222" stroke-width="0.35"/>
<circle cx="1237.8" cy="147.1" r="3.0" fill="#D48A32" stroke="#222" stroke-width="0.35"/>
<circle cx="1283.5" cy="108.8" r="3.0" fill="#D48A32" stroke="#222" stroke-width="0.35"/>
<circle cx="1329.1" cy="117.3" r="3.0" fill="#D48A32" stroke="#222" stroke-width="0.35"/>
<circle cx="1374.8" cy="86.9" r="3.0" fill="#D48A32" stroke="#222" stroke-width="0.35"/>
<circle cx="1740.3" cy="81.9" r="3.0" fill="#D48A32" stroke="#222" stroke-width="0.35"/>
<circle cx="1192.1" cy="152.2" r="3.0" fill="#3E75BA" stroke="#222" stroke-width="0.35"/>
<circle cx="1237.8" cy="142.1" r="3.0" fill="#3E75BA" stroke="#222" stroke-width="0.35"/>
<circle cx="1283.5" cy="115.9" r="3.0" fill="#3E75BA" stroke="#222" stroke-width="0.35"/>
<circle cx="1329.1" cy="91.8" r="3.0" fill="#3E75BA" stroke="#222" stroke-width="0.35"/>
<circle cx="1374.8" cy="83.0" r="3.0" fill="#3E75BA" stroke="#222" stroke-width="0.35"/>
<circle cx="1740.3" cy="99.8" r="3.0" fill="#3E75BA" stroke="#222" stroke-width="0.35"/>
<g>
<polyline points="1192.1,143.9 1237.8,130.3 1283.5,102.3 1329.1,101.2 1374.8,99.6 1740.3,93.4" fill="none" stroke="#A7351F" stroke-width="2.0" stroke-dasharray="8.4 8.4" stroke-opacity="0.76"/>
<polyline points="1192.1,143.9 1237.8,131.5 1283.5,102.6 1329.1,102.3 1374.8,91.8 1740.3,90.4" fill="none" stroke="#3E75BA" stroke-width="2.0" stroke-dasharray="8.4 8.4" stroke-opacity="0.76"/>
<polyline points="1192.1,145.0 1237.8,145.7 1283.5,114.3 1329.1,107.2 1374.8,99.6 1740.3,93.1" fill="none" stroke="#D48A32" stroke-width="2.0" stroke-dasharray="8.4 8.4" stroke-opacity="0.76"/>
<polyline points="1192.1,145.0 1237.8,142.1 1283.5,136.8 1329.1,115.4 1374.8,103.9 1740.3,101.0" fill="none" stroke="#4B8951" stroke-width="2.0" stroke-dasharray="8.4 8.4" stroke-opacity="0.76"/>
<polyline points="1192.1,148.5 1237.8,153.1 1283.5,164.6 1329.1,159.3 1374.8,148.7 1740.3,130.3" fill="none" stroke="#7771B2" stroke-width="2.0" stroke-dasharray="8.4 8.4" stroke-opacity="0.76"/>
<polyline points="1192.1,147.3 1237.8,152.6 1283.5,158.6 1329.1,158.8 1374.8,157.9 1740.3,130.8" fill="none" stroke="#7C9CB0" stroke-width="2.0" stroke-dasharray="8.4 8.4" stroke-opacity="0.76"/>
<polyline points="1192.1,147.3 1237.8,157.4 1283.5,172.8 1329.1,169.1 1374.8,171.7 1740.3,161.6" fill="none" stroke="#F6DB8C" stroke-width="2.0" stroke-dasharray="8.4 8.4" stroke-opacity="0.76"/>
<path d="M1192.1 140.3L1195.7 143.9L1192.1 147.5L1188.5 143.9Z" fill="#A7351F" fill-opacity="0.76" stroke="#222" stroke-opacity="0.6" stroke-width="0.35"/>
<path d="M1237.8 126.7L1241.4 130.3L1237.8 133.9L1234.2 130.3Z" fill="#A7351F" fill-opacity="0.76" stroke="#222" stroke-opacity="0.6" stroke-width="0.35"/>
<path d="M1283.5 98.7L1287.1 102.3L1283.5 105.9L1279.9 102.3Z" fill="#A7351F" fill-opacity="0.76" stroke="#222" stroke-opacity="0.6" stroke-width="0.35"/>
<path d="M1329.1 97.6L1332.7 101.2L1329.1 104.8L1325.5 101.2Z" fill="#A7351F" fill-opacity="0.76" stroke="#222" stroke-opacity="0.6" stroke-width="0.35"/>
<path d="M1374.8 96.0L1378.4 99.6L1374.8 103.2L1371.2 99.6Z" fill="#A7351F" fill-opacity="0.76" stroke="#222" stroke-opacity="0.6" stroke-width="0.35"/>
<path d="M1740.3 89.8L1743.9 93.4L1740.3 97.0L1736.7 93.4Z" fill="#A7351F" fill-opacity="0.76" stroke="#222" stroke-opacity="0.6" stroke-width="0.35"/>
<path d="M1192.1 143.7L1195.7 147.3L1192.1 150.9L1188.5 147.3Z" fill="#F6DB8C" fill-opacity="0.76" stroke="#222" stroke-opacity="0.6" stroke-width="0.35"/>
<path d="M1237.8 153.8L1241.4 157.4L1237.8 161.0L1234.2 157.4Z" fill="#F6DB8C" fill-opacity="0.76" stroke="#222" stroke-opacity="0.6" stroke-width="0.35"/>
<path d="M1283.5 169.2L1287.1 172.8L1283.5 176.4L1279.9 172.8Z" fill="#F6DB8C" fill-opacity="0.76" stroke="#222" stroke-opacity="0.6" stroke-width="0.35"/>
<path d="M1329.1 165.5L1332.7 169.1L1329.1 172.7L1325.5 169.1Z" fill="#F6DB8C" fill-opacity="0.76" stroke="#222" stroke-opacity="0.6" stroke-width="0.35"/>
<path d="M1374.8 168.1L1378.4 171.7L1374.8 175.3L1371.2 171.7Z" fill="#F6DB8C" fill-opacity="0.76" stroke="#222" stroke-opacity="0.6" stroke-width="0.35"/>
<path d="M1740.3 158.0L1743.9 161.6L1740.3 165.2L1736.7 161.6Z" fill="#F6DB8C" fill-opacity="0.76" stroke="#222" stroke-opacity="0.6" stroke-width="0.35"/>
<path d="M1192.1 143.7L1195.7 147.3L1192.1 150.9L1188.5 147.3Z" fill="#7C9CB0" fill-opacity="0.76" stroke="#222" stroke-opacity="0.6" stroke-width="0.35"/>
<path d="M1237.8 149.0L1241.4 152.6L1237.8 156.2L1234.2 152.6Z" fill="#7C9CB0" fill-opacity="0.76" stroke="#222" stroke-opacity="0.6" stroke-width="0.35"/>
<path d="M1283.5 155.0L1287.1 158.6L1283.5 162.2L1279.9 158.6Z" fill="#7C9CB0" fill-opacity="0.76" stroke="#222" stroke-opacity="0.6" stroke-width="0.35"/>
<path d="M1329.1 155.2L1332.7 158.8L1329.1 162.4L1325.5 158.8Z" fill="#7C9CB0" fill-opacity="0.76" stroke="#222" stroke-opacity="0.6" stroke-width="0.35"/>
<path d="M1374.8 154.3L1378.4 157.9L1374.8 161.5L1371.2 157.9Z" fill="#7C9CB0" fill-opacity="0.76" stroke="#222" stroke-opacity="0.6" stroke-width="0.35"/>
<path d="M1740.3 127.2L1743.9 130.8L1740.3 134.4L1736.7 130.8Z" fill="#7C9CB0" fill-opacity="0.76" stroke="#222" stroke-opacity="0.6" stroke-width="0.35"/>
<path d="M1192.1 144.9L1195.7 148.5L1192.1 152.1L1188.5 148.5Z" fill="#7771B2" fill-opacity="0.76" stroke="#222" stroke-opacity="0.6" stroke-width="0.35"/>
<path d="M1237.8 149.5L1241.4 153.1L1237.8 156.7L1234.2 153.1Z" fill="#7771B2" fill-opacity="0.76" stroke="#222" stroke-opacity="0.6" stroke-width="0.35"/>
<path d="M1283.5 161.0L1287.1 164.6L1283.5 168.2L1279.9 164.6Z" fill="#7771B2" fill-opacity="0.76" stroke="#222" stroke-opacity="0.6" stroke-width="0.35"/>
<path d="M1329.1 155.7L1332.7 159.3L1329.1 162.9L1325.5 159.3Z" fill="#7771B2" fill-opacity="0.76" stroke="#222" stroke-opacity="0.6" stroke-width="0.35"/>
<path d="M1374.8 145.1L1378.4 148.7L1374.8 152.3L1371.2 148.7Z" fill="#7771B2" fill-opacity="0.76" stroke="#222" stroke-opacity="0.6" stroke-width="0.35"/>
<path d="M1740.3 126.7L1743.9 130.3L1740.3 133.9L1736.7 130.3Z" fill="#7771B2" fill-opacity="0.76" stroke="#222" stroke-opacity="0.6" stroke-width="0.35"/>
<path d="M1192.1 141.4L1195.7 145.0L1192.1 148.6L1188.5 145.0Z" fill="#4B8951" fill-opacity="0.76" stroke="#222" stroke-opacity="0.6" stroke-width="0.35"/>
<path d="M1237.8 138.5L1241.4 142.1L1237.8 145.7L1234.2 142.1Z" fill="#4B8951" fill-opacity="0.76" stroke="#222" stroke-opacity="0.6" stroke-width="0.35"/>
<path d="M1283.5 133.2L1287.1 136.8L1283.5 140.4L1279.9 136.8Z" fill="#4B8951" fill-opacity="0.76" stroke="#222" stroke-opacity="0.6" stroke-width="0.35"/>
<path d="M1329.1 111.8L1332.7 115.4L1329.1 119.0L1325.5 115.4Z" fill="#4B8951" fill-opacity="0.76" stroke="#222" stroke-opacity="0.6" stroke-width="0.35"/>
<path d="M1374.8 100.3L1378.4 103.9L1374.8 107.5L1371.2 103.9Z" fill="#4B8951" fill-opacity="0.76" stroke="#222" stroke-opacity="0.6" stroke-width="0.35"/>
<path d="M1740.3 97.4L1743.9 101.0L1740.3 104.6L1736.7 101.0Z" fill="#4B8951" fill-opacity="0.76" stroke="#222" stroke-opacity="0.6" stroke-width="0.35"/>
<path d="M1192.1 141.4L1195.7 145.0L1192.1 148.6L1188.5 145.0Z" fill="#D48A32" fill-opacity="0.76" stroke="#222" stroke-opacity="0.6" stroke-width="0.35"/>
<path d="M1237.8 142.1L1241.4 145.7L1237.8 149.3L1234.2 145.7Z" fill="#D48A32" fill-opacity="0.76" stroke="#222" stroke-opacity="0.6" stroke-width="0.35"/>
<path d="M1283.5 110.7L1287.1 114.3L1283.5 117.9L1279.9 114.3Z" fill="#D48A32" fill-opacity="0.76" stroke="#222" stroke-opacity="0.6" stroke-width="0.35"/>
<path d="M1329.1 103.6L1332.7 107.2L1329.1 110.8L1325.5 107.2Z" fill="#D48A32" fill-opacity="0.76" stroke="#222" stroke-opacity="0.6" stroke-width="0.35"/>
<path d="M1374.8 96.0L1378.4 99.6L1374.8 103.2L1371.2 99.6Z" fill="#D48A32" fill-opacity="0.76" stroke="#222" stroke-opacity="0.6" stroke-width="0.35"/>
<path d="M1740.3 89.5L1743.9 93.1L1740.3 96.7L1736.7 93.1Z" fill="#D48A32" fill-opacity="0.76" stroke="#222" stroke-opacity="0.6" stroke-width="0.35"/>
<path d="M1192.1 140.3L1195.7 143.9L1192.1 147.5L1188.5 143.9Z" fill="#3E75BA" fill-opacity="0.76" stroke="#222" stroke-opacity="0.6" stroke-width="0.35"/>
<path d="M1237.8 127.9L1241.4 131.5L1237.8 135.1L1234.2 131.5Z" fill="#3E75BA" fill-opacity="0.76" stroke="#222" stroke-opacity="0.6" stroke-width="0.35"/>
<path d="M1283.5 99.0L1287.1 102.6L1283.5 106.2L1279.9 102.6Z" fill="#3E75BA" fill-opacity="0.76" stroke="#222" stroke-opacity="0.6" stroke-width="0.35"/>
<path d="M1329.1 98.7L1332.7 102.3L1329.1 105.9L1325.5 102.3Z" fill="#3E75BA" fill-opacity="0.76" stroke="#222" stroke-opacity="0.6" stroke-width="0.35"/>
<path d="M1374.8 88.2L1378.4 91.8L1374.8 95.4L1371.2 91.8Z" fill="#3E75BA" fill-opacity="0.76" stroke="#222" stroke-opacity="0.6" stroke-width="0.35"/>
<path d="M1740.3 86.8L1743.9 90.4L1740.3 94.0L1736.7 90.4Z" fill="#3E75BA" fill-opacity="0.76" stroke="#222" stroke-opacity="0.6" stroke-width="0.35"/>
</g>
<path d="M1186.5 48.3V282.8" stroke="#000" stroke-width="1.85" fill="none"/>
<path d="M1186.5 280.5h-2.6" stroke="#000" stroke-width="1.5"/>
<text transform="translate(1182.8 283.5) rotate(0.05) scale(1 1.05)" font-size="9.7" text-anchor="end" stroke="#000" stroke-width="0.12">0</text>
<path d="M1186.5 257.5h-2.6" stroke="#000" stroke-width="1.5"/>
<text transform="translate(1182.8 261.5) rotate(0.05) scale(1 1.05)" font-size="9.7" text-anchor="end" stroke="#000" stroke-width="0.12">1</text>
<path d="M1186.5 234.6h-2.6" stroke="#000" stroke-width="1.5"/>
<text transform="translate(1182.8 238.5) rotate(0.05) scale(1 1.05)" font-size="9.7" text-anchor="end" stroke="#000" stroke-width="0.12">2</text>
<path d="M1186.5 211.6h-2.6" stroke="#000" stroke-width="1.5"/>
<text transform="translate(1182.8 215.5) rotate(0.05) scale(1 1.05)" font-size="9.7" text-anchor="end" stroke="#000" stroke-width="0.12">3</text>
<path d="M1186.5 188.7h-2.6" stroke="#000" stroke-width="1.5"/>
<text transform="translate(1182.8 192.5) rotate(0.05) scale(1 1.05)" font-size="9.7" text-anchor="end" stroke="#000" stroke-width="0.12">4</text>
<path d="M1186.5 165.7h-2.6" stroke="#000" stroke-width="1.5"/>
<text transform="translate(1182.8 169.5) rotate(0.05) scale(1 1.05)" font-size="9.7" text-anchor="end" stroke="#000" stroke-width="0.12">5</text>
<path d="M1186.5 142.7h-2.6" stroke="#000" stroke-width="1.5"/>
<text transform="translate(1182.8 146.5) rotate(0.05) scale(1 1.05)" font-size="9.7" text-anchor="end" stroke="#000" stroke-width="0.12">6</text>
<path d="M1186.5 119.8h-2.6" stroke="#000" stroke-width="1.5"/>
<text transform="translate(1182.8 123.5) rotate(0.05) scale(1 1.05)" font-size="9.7" text-anchor="end" stroke="#000" stroke-width="0.12">7</text>
<path d="M1186.5 96.8h-2.6" stroke="#000" stroke-width="1.5"/>
<text transform="translate(1182.8 100.5) rotate(0.05) scale(1 1.05)" font-size="9.7" text-anchor="end" stroke="#000" stroke-width="0.12">8</text>
<path d="M1186.5 73.9h-2.6" stroke="#000" stroke-width="1.5"/>
<text transform="translate(1182.8 77.5) rotate(0.05) scale(1 1.05)" font-size="9.7" text-anchor="end" stroke="#000" stroke-width="0.12">9</text>
<path d="M1186.5 50.9h-2.6" stroke="#000" stroke-width="1.5"/>
<text transform="translate(1182.8 54.5) rotate(0.05) scale(1 1.05)" font-size="9.7" text-anchor="end" stroke="#000" stroke-width="0.12">10</text>
<polyline points="37.5,387.9 83.2,386.1 128.9,365.6 174.5,366.3 220.2,334.4 585.7,326.8" fill="none" stroke="#A7351F" stroke-width="2.0" stroke-linejoin="round"/>
<polyline points="37.5,385.6 83.2,387.0 128.9,369.1 174.5,363.4 220.2,345.0 585.7,339.0" fill="none" stroke="#3E75BA" stroke-width="2.0" stroke-linejoin="round"/>
<polyline points="37.5,388.8 83.2,389.5 128.9,373.5 174.5,368.6 220.2,363.6 585.7,350.9" fill="none" stroke="#D48A32" stroke-width="2.0" stroke-linejoin="round"/>
<polyline points="37.5,390.2 83.2,396.4 128.9,413.9 174.5,434.1 220.2,440.5 585.7,365.2" fill="none" stroke="#4B8951" stroke-width="2.0" stroke-linejoin="round"/>
<polyline points="37.5,389.8 83.2,396.0 128.9,408.1 174.5,420.5 220.2,430.7 585.7,439.6" fill="none" stroke="#7771B2" stroke-width="2.0" stroke-linejoin="round"/>
<polyline points="37.5,389.5 83.2,395.3 128.9,403.1 174.5,408.4 220.2,413.7 585.7,452.7" fill="none" stroke="#7C9CB0" stroke-width="2.0" stroke-linejoin="round"/>
<polyline points="37.5,388.6 83.2,394.8 128.9,404.5 174.5,410.2 220.2,415.5 585.7,439.6" fill="none" stroke="#F6DB8C" stroke-width="2.0" stroke-linejoin="round"/>
<circle cx="37.5" cy="387.9" r="3.0" fill="#A7351F" stroke="#222" stroke-width="0.35"/>
<circle cx="83.2" cy="386.1" r="3.0" fill="#A7351F" stroke="#222" stroke-width="0.35"/>
<circle cx="128.9" cy="365.6" r="3.0" fill="#A7351F" stroke="#222" stroke-width="0.35"/>
<circle cx="174.5" cy="366.3" r="3.0" fill="#A7351F" stroke="#222" stroke-width="0.35"/>
<circle cx="220.2" cy="334.4" r="3.0" fill="#A7351F" stroke="#222" stroke-width="0.35"/>
<circle cx="585.7" cy="326.8" r="3.0" fill="#A7351F" stroke="#222" stroke-width="0.35"/>
<circle cx="37.5" cy="388.6" r="3.0" fill="#F6DB8C" stroke="#222" stroke-width="0.35"/>
<circle cx="83.2" cy="394.8" r="3.0" fill="#F6DB8C" stroke="#222" stroke-width="0.35"/>
<circle cx="128.9" cy="404.5" r="3.0" fill="#F6DB8C" stroke="#222" stroke-width="0.35"/>
<circle cx="174.5" cy="410.2" r="3.0" fill="#F6DB8C" stroke="#222" stroke-width="0.35"/>
<circle cx="220.2" cy="415.5" r="3.0" fill="#F6DB8C" stroke="#222" stroke-width="0.35"/>
<circle cx="585.7" cy="439.6" r="3.0" fill="#F6DB8C" stroke="#222" stroke-width="0.35"/>
<circle cx="37.5" cy="389.5" r="3.0" fill="#7C9CB0" stroke="#222" stroke-width="0.35"/>
<circle cx="83.2" cy="395.3" r="3.0" fill="#7C9CB0" stroke="#222" stroke-width="0.35"/>
<circle cx="128.9" cy="403.1" r="3.0" fill="#7C9CB0" stroke="#222" stroke-width="0.35"/>
<circle cx="174.5" cy="408.4" r="3.0" fill="#7C9CB0" stroke="#222" stroke-width="0.35"/>
<circle cx="220.2" cy="413.7" r="3.0" fill="#7C9CB0" stroke="#222" stroke-width="0.35"/>
<circle cx="585.7" cy="452.7" r="3.0" fill="#7C9CB0" stroke="#222" stroke-width="0.35"/>
<circle cx="37.5" cy="389.8" r="3.0" fill="#7771B2" stroke="#222" stroke-width="0.35"/>
<circle cx="83.2" cy="396.0" r="3.0" fill="#7771B2" stroke="#222" stroke-width="0.35"/>
<circle cx="128.9" cy="408.1" r="3.0" fill="#7771B2" stroke="#222" stroke-width="0.35"/>
<circle cx="174.5" cy="420.5" r="3.0" fill="#7771B2" stroke="#222" stroke-width="0.35"/>
<circle cx="220.2" cy="430.7" r="3.0" fill="#7771B2" stroke="#222" stroke-width="0.35"/>
<circle cx="585.7" cy="439.6" r="3.0" fill="#7771B2" stroke="#222" stroke-width="0.35"/>
<circle cx="37.5" cy="390.2" r="3.0" fill="#4B8951" stroke="#222" stroke-width="0.35"/>
<circle cx="83.2" cy="396.4" r="3.0" fill="#4B8951" stroke="#222" stroke-width="0.35"/>
<circle cx="128.9" cy="413.9" r="3.0" fill="#4B8951" stroke="#222" stroke-width="0.35"/>
<circle cx="174.5" cy="434.1" r="3.0" fill="#4B8951" stroke="#222" stroke-width="0.35"/>
<circle cx="220.2" cy="440.5" r="3.0" fill="#4B8951" stroke="#222" stroke-width="0.35"/>
<circle cx="585.7" cy="365.2" r="3.0" fill="#4B8951" stroke="#222" stroke-width="0.35"/>
<circle cx="37.5" cy="388.8" r="3.0" fill="#D48A32" stroke="#222" stroke-width="0.35"/>
<circle cx="83.2" cy="389.5" r="3.0" fill="#D48A32" stroke="#222" stroke-width="0.35"/>
<circle cx="128.9" cy="373.5" r="3.0" fill="#D48A32" stroke="#222" stroke-width="0.35"/>
<circle cx="174.5" cy="368.6" r="3.0" fill="#D48A32" stroke="#222" stroke-width="0.35"/>
<circle cx="220.2" cy="363.6" r="3.0" fill="#D48A32" stroke="#222" stroke-width="0.35"/>
<circle cx="585.7" cy="350.9" r="3.0" fill="#D48A32" stroke="#222" stroke-width="0.35"/>
<circle cx="37.5" cy="385.6" r="3.0" fill="#3E75BA" stroke="#222" stroke-width="0.35"/>
<circle cx="83.2" cy="387.0" r="3.0" fill="#3E75BA" stroke="#222" stroke-width="0.35"/>
<circle cx="128.9" cy="369.1" r="3.0" fill="#3E75BA" stroke="#222" stroke-width="0.35"/>
<circle cx="174.5" cy="363.4" r="3.0" fill="#3E75BA" stroke="#222" stroke-width="0.35"/>
<circle cx="220.2" cy="345.0" r="3.0" fill="#3E75BA" stroke="#222" stroke-width="0.35"/>
<circle cx="585.7" cy="339.0" r="3.0" fill="#3E75BA" stroke="#222" stroke-width="0.35"/>
<g>
<polyline points="37.5,375.8 83.2,387.2 83.2,370.2 128.9,365.0 128.9,344.1 174.5,356.0 174.5,350.3 220.2,344.1 220.2,327.5 585.7,337.6 585.7,326.4" fill="none" stroke="#A7351F" stroke-width="2.0" stroke-dasharray="8.4 8.4" stroke-opacity="0.76"/>
<polyline points="37.5,393.2 83.2,387.5 128.9,373.5 128.9,369.8 174.5,363.4 220.2,348.9 585.7,342.2" fill="none" stroke="#3E75BA" stroke-width="2.0" stroke-dasharray="8.4 8.4" stroke-opacity="0.76"/>
<polyline points="37.5,390.2 83.2,395.5 128.9,364.7 174.5,363.1 220.2,369.6 585.7,371.4" fill="none" stroke="#D48A32" stroke-width="2.0" stroke-dasharray="8.4 8.4" stroke-opacity="0.76"/>
<polyline points="37.5,391.4 83.2,396.7 128.9,412.0 174.5,420.8 220.2,430.7 585.7,458.9" fill="none" stroke="#4B8951" stroke-width="2.0" stroke-dasharray="8.4 8.4" stroke-opacity="0.76"/>
<polyline points="37.5,398.7 83.2,396.0 128.9,406.5 174.5,413.4 220.2,419.9 585.7,444.9" fill="none" stroke="#7771B2" stroke-width="2.0" stroke-dasharray="8.4 8.4" stroke-opacity="0.76"/>
<polyline points="37.5,393.2 83.2,394.8 128.9,398.0 174.5,403.1 220.2,411.4 585.7,455.7" fill="none" stroke="#7C9CB0" stroke-width="2.0" stroke-dasharray="8.4 8.4" stroke-opacity="0.76"/>
<polyline points="37.5,397.1 83.2,395.5 128.9,404.0 174.5,407.9 220.2,416.6 585.7,469.7" fill="none" stroke="#F6DB8C" stroke-width="2.0" stroke-dasharray="8.4 8.4" stroke-opacity="0.76"/>
<path d="M37.5 372.2L41.1 375.8L37.5 379.4L33.9 375.8Z" fill="#A7351F" fill-opacity="0.76" stroke="#222" stroke-opacity="0.6" stroke-width="0.35"/>
<path d="M83.2 383.6L86.8 387.2L83.2 390.8L79.6 387.2Z" fill="#A7351F" fill-opacity="0.76" stroke="#222" stroke-opacity="0.6" stroke-width="0.35"/>
<path d="M83.2 366.6L86.8 370.2L83.2 373.8L79.6 370.2Z" fill="#A7351F" fill-opacity="0.76" stroke="#222" stroke-opacity="0.6" stroke-width="0.35"/>
<path d="M128.9 361.4L132.5 365.0L128.9 368.6L125.3 365.0Z" fill="#A7351F" fill-opacity="0.76" stroke="#222" stroke-opacity="0.6" stroke-width="0.35"/>
<path d="M128.9 340.5L132.5 344.1L128.9 347.7L125.3 344.1Z" fill="#A7351F" fill-opacity="0.76" stroke="#222" stroke-opacity="0.6" stroke-width="0.35"/>
<path d="M174.5 352.4L178.1 356.0L174.5 359.6L170.9 356.0Z" fill="#A7351F" fill-opacity="0.76" stroke="#222" stroke-opacity="0.6" stroke-width="0.35"/>
<path d="M174.5 346.7L178.1 350.3L174.5 353.9L170.9 350.3Z" fill="#A7351F" fill-opacity="0.76" stroke="#222" stroke-opacity="0.6" stroke-width="0.35"/>
<path d="M220.2 340.5L223.8 344.1L220.2 347.7L216.6 344.1Z" fill="#A7351F" fill-opacity="0.76" stroke="#222" stroke-opacity="0.6" stroke-width="0.35"/>
<path d="M220.2 323.9L223.8 327.5L220.2 331.1L216.6 327.5Z" fill="#A7351F" fill-opacity="0.76" stroke="#222" stroke-opacity="0.6" stroke-width="0.35"/>
<path d="M585.7 334.0L589.3 337.6L585.7 341.2L582.1 337.6Z" fill="#A7351F" fill-opacity="0.76" stroke="#222" stroke-opacity="0.6" stroke-width="0.35"/>
<path d="M585.7 322.8L589.3 326.4L585.7 330.0L582.1 326.4Z" fill="#A7351F" fill-opacity="0.76" stroke="#222" stroke-opacity="0.6" stroke-width="0.35"/>
<path d="M37.5 393.5L41.1 397.1L37.5 400.7L33.9 397.1Z" fill="#F6DB8C" fill-opacity="0.76" stroke="#222" stroke-opacity="0.6" stroke-width="0.35"/>
<path d="M83.2 391.9L86.8 395.5L83.2 399.1L79.6 395.5Z" fill="#F6DB8C" fill-opacity="0.76" stroke="#222" stroke-opacity="0.6" stroke-width="0.35"/>
<path d="M128.9 400.4L132.5 404.0L128.9 407.6L125.3 404.0Z" fill="#F6DB8C" fill-opacity="0.76" stroke="#222" stroke-opacity="0.6" stroke-width="0.35"/>
<path d="M174.5 404.3L178.1 407.9L174.5 411.5L170.9 407.9Z" fill="#F6DB8C" fill-opacity="0.76" stroke="#222" stroke-opacity="0.6" stroke-width="0.35"/>
<path d="M220.2 413.0L223.8 416.6L220.2 420.2L216.6 416.6Z" fill="#F6DB8C" fill-opacity="0.76" stroke="#222" stroke-opacity="0.6" stroke-width="0.35"/>
<path d="M585.7 466.1L589.3 469.7L585.7 473.3L582.1 469.7Z" fill="#F6DB8C" fill-opacity="0.76" stroke="#222" stroke-opacity="0.6" stroke-width="0.35"/>
<path d="M37.5 389.6L41.1 393.2L37.5 396.8L33.9 393.2Z" fill="#7C9CB0" fill-opacity="0.76" stroke="#222" stroke-opacity="0.6" stroke-width="0.35"/>
<path d="M83.2 391.2L86.8 394.8L83.2 398.4L79.6 394.8Z" fill="#7C9CB0" fill-opacity="0.76" stroke="#222" stroke-opacity="0.6" stroke-width="0.35"/>
<path d="M128.9 394.4L132.5 398.0L128.9 401.6L125.3 398.0Z" fill="#7C9CB0" fill-opacity="0.76" stroke="#222" stroke-opacity="0.6" stroke-width="0.35"/>
<path d="M174.5 399.5L178.1 403.1L174.5 406.7L170.9 403.1Z" fill="#7C9CB0" fill-opacity="0.76" stroke="#222" stroke-opacity="0.6" stroke-width="0.35"/>
<path d="M220.2 407.8L223.8 411.4L220.2 415.0L216.6 411.4Z" fill="#7C9CB0" fill-opacity="0.76" stroke="#222" stroke-opacity="0.6" stroke-width="0.35"/>
<path d="M585.7 452.1L589.3 455.7L585.7 459.3L582.1 455.7Z" fill="#7C9CB0" fill-opacity="0.76" stroke="#222" stroke-opacity="0.6" stroke-width="0.35"/>
<path d="M37.5 395.1L41.1 398.7L37.5 402.3L33.9 398.7Z" fill="#7771B2" fill-opacity="0.76" stroke="#222" stroke-opacity="0.6" stroke-width="0.35"/>
<path d="M83.2 392.4L86.8 396.0L83.2 399.6L79.6 396.0Z" fill="#7771B2" fill-opacity="0.76" stroke="#222" stroke-opacity="0.6" stroke-width="0.35"/>
<path d="M128.9 402.9L132.5 406.5L128.9 410.1L125.3 406.5Z" fill="#7771B2" fill-opacity="0.76" stroke="#222" stroke-opacity="0.6" stroke-width="0.35"/>
<path d="M174.5 409.8L178.1 413.4L174.5 417.0L170.9 413.4Z" fill="#7771B2" fill-opacity="0.76" stroke="#222" stroke-opacity="0.6" stroke-width="0.35"/>
<path d="M220.2 416.3L223.8 419.9L220.2 423.5L216.6 419.9Z" fill="#7771B2" fill-opacity="0.76" stroke="#222" stroke-opacity="0.6" stroke-width="0.35"/>
<path d="M585.7 441.3L589.3 444.9L585.7 448.5L582.1 444.9Z" fill="#7771B2" fill-opacity="0.76" stroke="#222" stroke-opacity="0.6" stroke-width="0.35"/>
<path d="M37.5 387.8L41.1 391.4L37.5 395.0L33.9 391.4Z" fill="#4B8951" fill-opacity="0.76" stroke="#222" stroke-opacity="0.6" stroke-width="0.35"/>
<path d="M83.2 393.1L86.8 396.7L83.2 400.3L79.6 396.7Z" fill="#4B8951" fill-opacity="0.76" stroke="#222" stroke-opacity="0.6" stroke-width="0.35"/>
<path d="M128.9 408.4L132.5 412.0L128.9 415.6L125.3 412.0Z" fill="#4B8951" fill-opacity="0.76" stroke="#222" stroke-opacity="0.6" stroke-width="0.35"/>
<path d="M174.5 417.2L178.1 420.8L174.5 424.4L170.9 420.8Z" fill="#4B8951" fill-opacity="0.76" stroke="#222" stroke-opacity="0.6" stroke-width="0.35"/>
<path d="M220.2 427.1L223.8 430.7L220.2 434.3L216.6 430.7Z" fill="#4B8951" fill-opacity="0.76" stroke="#222" stroke-opacity="0.6" stroke-width="0.35"/>
<path d="M585.7 455.3L589.3 458.9L585.7 462.5L582.1 458.9Z" fill="#4B8951" fill-opacity="0.76" stroke="#222" stroke-opacity="0.6" stroke-width="0.35"/>
<path d="M37.5 386.6L41.1 390.2L37.5 393.8L33.9 390.2Z" fill="#D48A32" fill-opacity="0.76" stroke="#222" stroke-opacity="0.6" stroke-width="0.35"/>
<path d="M83.2 391.9L86.8 395.5L83.2 399.1L79.6 395.5Z" fill="#D48A32" fill-opacity="0.76" stroke="#222" stroke-opacity="0.6" stroke-width="0.35"/>
<path d="M128.9 361.1L132.5 364.7L128.9 368.3L125.3 364.7Z" fill="#D48A32" fill-opacity="0.76" stroke="#222" stroke-opacity="0.6" stroke-width="0.35"/>
<path d="M174.5 359.5L178.1 363.1L174.5 366.7L170.9 363.1Z" fill="#D48A32" fill-opacity="0.76" stroke="#222" stroke-opacity="0.6" stroke-width="0.35"/>
<path d="M220.2 366.0L223.8 369.6L220.2 373.2L216.6 369.6Z" fill="#D48A32" fill-opacity="0.76" stroke="#222" stroke-opacity="0.6" stroke-width="0.35"/>
<path d="M585.7 367.8L589.3 371.4L585.7 375.0L582.1 371.4Z" fill="#D48A32" fill-opacity="0.76" stroke="#222" stroke-opacity="0.6" stroke-width="0.35"/>
<path d="M37.5 389.6L41.1 393.2L37.5 396.8L33.9 393.2Z" fill="#3E75BA" fill-opacity="0.76" stroke="#222" stroke-opacity="0.6" stroke-width="0.35"/>
<path d="M83.2 383.9L86.8 387.5L83.2 391.1L79.6 387.5Z" fill="#3E75BA" fill-opacity="0.76" stroke="#222" stroke-opacity="0.6" stroke-width="0.35"/>
<path d="M128.9 369.9L132.5 373.5L128.9 377.1L125.3 373.5Z" fill="#3E75BA" fill-opacity="0.76" stroke="#222" stroke-opacity="0.6" stroke-width="0.35"/>
<path d="M128.9 366.2L132.5 369.8L128.9 373.4L125.3 369.8Z" fill="#3E75BA" fill-opacity="0.76" stroke="#222" stroke-opacity="0.6" stroke-width="0.35"/>
<path d="M174.5 359.8L178.1 363.4L174.5 367.0L170.9 363.4Z" fill="#3E75BA" fill-opacity="0.76" stroke="#222" stroke-opacity="0.6" stroke-width="0.35"/>
<path d="M220.2 345.3L223.8 348.9L220.2 352.5L216.6 348.9Z" fill="#3E75BA" fill-opacity="0.76" stroke="#222" stroke-opacity="0.6" stroke-width="0.35"/>
<path d="M585.7 338.6L589.3 342.2L585.7 345.8L582.1 342.2Z" fill="#3E75BA" fill-opacity="0.76" stroke="#222" stroke-opacity="0.6" stroke-width="0.35"/>
</g>
<path d="M32.0 293.6V528.9" stroke="#000" stroke-width="1.85" fill="none"/>
<path d="M32.0 525.8h-2.6" stroke="#000" stroke-width="1.5"/>
<text transform="translate(28.3 529.5) rotate(0.05) scale(1 1.05)" font-size="9.7" text-anchor="end" stroke="#000" stroke-width="0.12">0</text>
<path d="M32.0 502.8h-2.6" stroke="#000" stroke-width="1.5"/>
<text transform="translate(28.3 506.5) rotate(0.05) scale(1 1.05)" font-size="9.7" text-anchor="end" stroke="#000" stroke-width="0.12">1</text>
<path d="M32.0 479.8h-2.6" stroke="#000" stroke-width="1.5"/>
<text transform="translate(28.3 483.5) rotate(0.05) scale(1 1.05)" font-size="9.7" text-anchor="end" stroke="#000" stroke-width="0.12">2</text>
<path d="M32.0 456.8h-2.6" stroke="#000" stroke-width="1.5"/>
<text transform="translate(28.3 460.5) rotate(0.05) scale(1 1.05)" font-size="9.7" text-anchor="end" stroke="#000" stroke-width="0.12">3</text>
<path d="M32.0 433.9h-2.6" stroke="#000" stroke-width="1.5"/>
<text transform="translate(28.3 437.5) rotate(0.05) scale(1 1.05)" font-size="9.7" text-anchor="end" stroke="#000" stroke-width="0.12">4</text>
<path d="M32.0 410.9h-2.6" stroke="#000" stroke-width="1.5"/>
<text transform="translate(28.3 414.5) rotate(0.05) scale(1 1.05)" font-size="9.7" text-anchor="end" stroke="#000" stroke-width="0.12">5</text>
<path d="M32.0 387.9h-2.6" stroke="#000" stroke-width="1.5"/>
<text transform="translate(28.3 391.5) rotate(0.05) scale(1 1.05)" font-size="9.7" text-anchor="end" stroke="#000" stroke-width="0.12">6</text>
<path d="M32.0 365.0h-2.6" stroke="#000" stroke-width="1.5"/>
<text transform="translate(28.3 368.5) rotate(0.05) scale(1 1.05)" font-size="9.7" text-anchor="end" stroke="#000" stroke-width="0.12">7</text>
<path d="M32.0 342.0h-2.6" stroke="#000" stroke-width="1.5"/>
<text transform="translate(28.3 345.5) rotate(0.05) scale(1 1.05)" font-size="9.7" text-anchor="end" stroke="#000" stroke-width="0.12">8</text>
<path d="M32.0 319.0h-2.6" stroke="#000" stroke-width="1.5"/>
<text transform="translate(28.3 322.5) rotate(0.05) scale(1 1.05)" font-size="9.7" text-anchor="end" stroke="#000" stroke-width="0.12">9</text>
<path d="M32.0 296.1h-2.6" stroke="#000" stroke-width="1.5"/>
<text transform="translate(28.3 299.5) rotate(0.05) scale(1 1.05)" font-size="9.7" text-anchor="end" stroke="#000" stroke-width="0.12">10</text>
<path d="M31.0 527.9H591.5" stroke="#000" stroke-width="1.85" fill="none"/>
<path d="M37.5 527.9v2.6" stroke="#000" stroke-width="1.5"/>
<text transform="translate(37.5 539.2) rotate(0.05) scale(1 1.05)" font-size="9.7" text-anchor="middle" stroke="#000" stroke-width="0.12">0</text>
<path d="M128.9 527.9v2.6" stroke="#000" stroke-width="1.5"/>
<text transform="translate(128.9 539.2) rotate(0.05) scale(1 1.05)" font-size="9.7" text-anchor="middle" stroke="#000" stroke-width="0.12">4</text>
<path d="M220.2 527.9v2.6" stroke="#000" stroke-width="1.5"/>
<text transform="translate(220.2 539.2) rotate(0.05) scale(1 1.05)" font-size="9.7" text-anchor="middle" stroke="#000" stroke-width="0.12">8</text>
<path d="M311.6 527.9v2.6" stroke="#000" stroke-width="1.5"/>
<text transform="translate(311.6 539.2) rotate(0.05) scale(1 1.05)" font-size="9.7" text-anchor="middle" stroke="#000" stroke-width="0.12">12</text>
<path d="M402.9 527.9v2.6" stroke="#000" stroke-width="1.5"/>
<text transform="translate(402.9 539.2) rotate(0.05) scale(1 1.05)" font-size="9.7" text-anchor="middle" stroke="#000" stroke-width="0.12">16</text>
<path d="M494.3 527.9v2.6" stroke="#000" stroke-width="1.5"/>
<text transform="translate(494.3 539.2) rotate(0.05) scale(1 1.05)" font-size="9.7" text-anchor="middle" stroke="#000" stroke-width="0.12">20</text>
<path d="M585.7 527.9v2.6" stroke="#000" stroke-width="1.5"/>
<text transform="translate(585.7 539.2) rotate(0.05) scale(1 1.05)" font-size="9.7" text-anchor="middle" stroke="#000" stroke-width="0.12">24</text>
<text transform="translate(312.1 551.8) rotate(0.05) scale(1 1.05)" font-size="11.7" text-anchor="middle">Time (h)</text>
<polyline points="616.9,387.9 662.6,386.1 708.3,365.6 753.9,366.3 799.6,334.4 1165.1,326.8" fill="none" stroke="#A7351F" stroke-width="2.0" stroke-linejoin="round"/>
<polyline points="616.9,385.6 662.6,387.0 708.3,369.1 753.9,363.4 799.6,345.0 1165.1,339.0" fill="none" stroke="#3E75BA" stroke-width="2.0" stroke-linejoin="round"/>
<polyline points="616.9,388.8 662.6,389.5 708.3,373.5 753.9,368.6 799.6,363.6 1165.1,350.9" fill="none" stroke="#D48A32" stroke-width="2.0" stroke-linejoin="round"/>
<polyline points="616.9,390.2 662.6,396.4 708.3,413.9 753.9,434.1 799.6,440.5 1165.1,365.2" fill="none" stroke="#4B8951" stroke-width="2.0" stroke-linejoin="round"/>
<polyline points="616.9,389.8 662.6,396.0 708.3,408.1 753.9,420.5 799.6,430.7 1165.1,439.6" fill="none" stroke="#7771B2" stroke-width="2.0" stroke-linejoin="round"/>
<polyline points="616.9,389.5 662.6,395.3 708.3,403.1 753.9,408.4 799.6,413.7 1165.1,452.7" fill="none" stroke="#7C9CB0" stroke-width="2.0" stroke-linejoin="round"/>
<polyline points="616.9,388.6 662.6,394.8 708.3,404.5 753.9,410.2 799.6,415.5 1165.1,439.6" fill="none" stroke="#F6DB8C" stroke-width="2.0" stroke-linejoin="round"/>
<circle cx="616.9" cy="387.9" r="3.0" fill="#A7351F" stroke="#222" stroke-width="0.35"/>
<circle cx="662.6" cy="386.1" r="3.0" fill="#A7351F" stroke="#222" stroke-width="0.35"/>
<circle cx="708.3" cy="365.6" r="3.0" fill="#A7351F" stroke="#222" stroke-width="0.35"/>
<circle cx="753.9" cy="366.3" r="3.0" fill="#A7351F" stroke="#222" stroke-width="0.35"/>
<circle cx="799.6" cy="334.4" r="3.0" fill="#A7351F" stroke="#222" stroke-width="0.35"/>
<circle cx="1165.1" cy="326.8" r="3.0" fill="#A7351F" stroke="#222" stroke-width="0.35"/>
<circle cx="616.9" cy="388.6" r="3.0" fill="#F6DB8C" stroke="#222" stroke-width="0.35"/>
<circle cx="662.6" cy="394.8" r="3.0" fill="#F6DB8C" stroke="#222" stroke-width="0.35"/>
<circle cx="708.3" cy="404.5" r="3.0" fill="#F6DB8C" stroke="#222" stroke-width="0.35"/>
<circle cx="753.9" cy="410.2" r="3.0" fill="#F6DB8C" stroke="#222" stroke-width="0.35"/>
<circle cx="799.6" cy="415.5" r="3.0" fill="#F6DB8C" stroke="#222" stroke-width="0.35"/>
<circle cx="1165.1" cy="439.6" r="3.0" fill="#F6DB8C" stroke="#222" stroke-width="0.35"/>
<circle cx="616.9" cy="389.5" r="3.0" fill="#7C9CB0" stroke="#222" stroke-width="0.35"/>
<circle cx="662.6" cy="395.3" r="3.0" fill="#7C9CB0" stroke="#222" stroke-width="0.35"/>
<circle cx="708.3" cy="403.1" r="3.0" fill="#7C9CB0" stroke="#222" stroke-width="0.35"/>
<circle cx="753.9" cy="408.4" r="3.0" fill="#7C9CB0" stroke="#222" stroke-width="0.35"/>
<circle cx="799.6" cy="413.7" r="3.0" fill="#7C9CB0" stroke="#222" stroke-width="0.35"/>
<circle cx="1165.1" cy="452.7" r="3.0" fill="#7C9CB0" stroke="#222" stroke-width="0.35"/>
<circle cx="616.9" cy="389.8" r="3.0" fill="#7771B2" stroke="#222" stroke-width="0.35"/>
<circle cx="662.6" cy="396.0" r="3.0" fill="#7771B2" stroke="#222" stroke-width="0.35"/>
<circle cx="708.3" cy="408.1" r="3.0" fill="#7771B2" stroke="#222" stroke-width="0.35"/>
<circle cx="753.9" cy="420.5" r="3.0" fill="#7771B2" stroke="#222" stroke-width="0.35"/>
<circle cx="799.6" cy="430.7" r="3.0" fill="#7771B2" stroke="#222" stroke-width="0.35"/>
<circle cx="1165.1" cy="439.6" r="3.0" fill="#7771B2" stroke="#222" stroke-width="0.35"/>
<circle cx="616.9" cy="390.2" r="3.0" fill="#4B8951" stroke="#222" stroke-width="0.35"/>
<circle cx="662.6" cy="396.4" r="3.0" fill="#4B8951" stroke="#222" stroke-width="0.35"/>
<circle cx="708.3" cy="413.9" r="3.0" fill="#4B8951" stroke="#222" stroke-width="0.35"/>
<circle cx="753.9" cy="434.1" r="3.0" fill="#4B8951" stroke="#222" stroke-width="0.35"/>
<circle cx="799.6" cy="440.5" r="3.0" fill="#4B8951" stroke="#222" stroke-width="0.35"/>
<circle cx="1165.1" cy="365.2" r="3.0" fill="#4B8951" stroke="#222" stroke-width="0.35"/>
<circle cx="616.9" cy="388.8" r="3.0" fill="#D48A32" stroke="#222" stroke-width="0.35"/>
<circle cx="662.6" cy="389.5" r="3.0" fill="#D48A32" stroke="#222" stroke-width="0.35"/>
<circle cx="708.3" cy="373.5" r="3.0" fill="#D48A32" stroke="#222" stroke-width="0.35"/>
<circle cx="753.9" cy="368.6" r="3.0" fill="#D48A32" stroke="#222" stroke-width="0.35"/>
<circle cx="799.6" cy="363.6" r="3.0" fill="#D48A32" stroke="#222" stroke-width="0.35"/>
<circle cx="1165.1" cy="350.9" r="3.0" fill="#D48A32" stroke="#222" stroke-width="0.35"/>
<circle cx="616.9" cy="385.6" r="3.0" fill="#3E75BA" stroke="#222" stroke-width="0.35"/>
<circle cx="662.6" cy="387.0" r="3.0" fill="#3E75BA" stroke="#222" stroke-width="0.35"/>
<circle cx="708.3" cy="369.1" r="3.0" fill="#3E75BA" stroke="#222" stroke-width="0.35"/>
<circle cx="753.9" cy="363.4" r="3.0" fill="#3E75BA" stroke="#222" stroke-width="0.35"/>
<circle cx="799.6" cy="345.0" r="3.0" fill="#3E75BA" stroke="#222" stroke-width="0.35"/>
<circle cx="1165.1" cy="339.0" r="3.0" fill="#3E75BA" stroke="#222" stroke-width="0.35"/>
<g>
<polyline points="616.9,390.2 662.6,387.9 708.3,366.1 753.9,357.2 799.6,356.7 1165.1,352.8" fill="none" stroke="#A7351F" stroke-width="2.0" stroke-dasharray="8.4 8.4" stroke-opacity="0.76"/>
<polyline points="616.9,394.4 662.6,395.5 708.3,369.1 753.9,363.8 799.6,360.4 1165.1,348.7" fill="none" stroke="#3E75BA" stroke-width="2.0" stroke-dasharray="8.4 8.4" stroke-opacity="0.76"/>
<polyline points="616.9,389.1 662.6,389.5 708.3,373.5 753.9,368.4 799.6,364.5 1165.1,355.3" fill="none" stroke="#D48A32" stroke-width="2.0" stroke-dasharray="8.4 8.4" stroke-opacity="0.76"/>
<polyline points="616.9,390.2 662.6,393.7 708.3,407.2 753.9,401.3 799.6,395.1 1165.1,390.2" fill="none" stroke="#4B8951" stroke-width="2.0" stroke-dasharray="8.4 8.4" stroke-opacity="0.76"/>
<polyline points="616.9,392.5 662.6,394.8 708.3,400.3 753.9,407.2 799.6,403.5 1165.1,400.3" fill="none" stroke="#7771B2" stroke-width="2.0" stroke-dasharray="8.4 8.4" stroke-opacity="0.76"/>
<polyline points="616.9,396.4 662.6,393.7 708.3,397.1 753.9,399.4 799.6,400.6 1165.1,412.5" fill="none" stroke="#7C9CB0" stroke-width="2.0" stroke-dasharray="8.4 8.4" stroke-opacity="0.76"/>
<polyline points="616.9,391.4 662.6,394.8 708.3,404.0 753.9,410.2 799.6,415.5 1165.1,428.4" fill="none" stroke="#F6DB8C" stroke-width="2.0" stroke-dasharray="8.4 8.4" stroke-opacity="0.76"/>
<path d="M616.9 386.6L620.5 390.2L616.9 393.8L613.3 390.2Z" fill="#A7351F" fill-opacity="0.76" stroke="#222" stroke-opacity="0.6" stroke-width="0.35"/>
<path d="M662.6 384.3L666.2 387.9L662.6 391.5L659.0 387.9Z" fill="#A7351F" fill-opacity="0.76" stroke="#222" stroke-opacity="0.6" stroke-width="0.35"/>
<path d="M708.3 362.5L711.9 366.1L708.3 369.7L704.7 366.1Z" fill="#A7351F" fill-opacity="0.76" stroke="#222" stroke-opacity="0.6" stroke-width="0.35"/>
<path d="M753.9 353.6L757.5 357.2L753.9 360.8L750.3 357.2Z" fill="#A7351F" fill-opacity="0.76" stroke="#222" stroke-opacity="0.6" stroke-width="0.35"/>
<path d="M799.6 353.1L803.2 356.7L799.6 360.3L796.0 356.7Z" fill="#A7351F" fill-opacity="0.76" stroke="#222" stroke-opacity="0.6" stroke-width="0.35"/>
<path d="M1165.1 349.2L1168.7 352.8L1165.1 356.4L1161.5 352.8Z" fill="#A7351F" fill-opacity="0.76" stroke="#222" stroke-opacity="0.6" stroke-width="0.35"/>
<path d="M616.9 387.8L620.5 391.4L616.9 395.0L613.3 391.4Z" fill="#F6DB8C" fill-opacity="0.76" stroke="#222" stroke-opacity="0.6" stroke-width="0.35"/>
<path d="M662.6 391.2L666.2 394.8L662.6 398.4L659.0 394.8Z" fill="#F6DB8C" fill-opacity="0.76" stroke="#222" stroke-opacity="0.6" stroke-width="0.35"/>
<path d="M708.3 400.4L711.9 404.0L708.3 407.6L704.7 404.0Z" fill="#F6DB8C" fill-opacity="0.76" stroke="#222" stroke-opacity="0.6" stroke-width="0.35"/>
<path d="M753.9 406.6L757.5 410.2L753.9 413.8L750.3 410.2Z" fill="#F6DB8C" fill-opacity="0.76" stroke="#222" stroke-opacity="0.6" stroke-width="0.35"/>
<path d="M799.6 411.9L803.2 415.5L799.6 419.1L796.0 415.5Z" fill="#F6DB8C" fill-opacity="0.76" stroke="#222" stroke-opacity="0.6" stroke-width="0.35"/>
<path d="M1165.1 424.8L1168.7 428.4L1165.1 432.0L1161.5 428.4Z" fill="#F6DB8C" fill-opacity="0.76" stroke="#222" stroke-opacity="0.6" stroke-width="0.35"/>
<path d="M616.9 392.8L620.5 396.4L616.9 400.0L613.3 396.4Z" fill="#7C9CB0" fill-opacity="0.76" stroke="#222" stroke-opacity="0.6" stroke-width="0.35"/>
<path d="M662.6 390.1L666.2 393.7L662.6 397.3L659.0 393.7Z" fill="#7C9CB0" fill-opacity="0.76" stroke="#222" stroke-opacity="0.6" stroke-width="0.35"/>
<path d="M708.3 393.5L711.9 397.1L708.3 400.7L704.7 397.1Z" fill="#7C9CB0" fill-opacity="0.76" stroke="#222" stroke-opacity="0.6" stroke-width="0.35"/>
<path d="M753.9 395.8L757.5 399.4L753.9 403.0L750.3 399.4Z" fill="#7C9CB0" fill-opacity="0.76" stroke="#222" stroke-opacity="0.6" stroke-width="0.35"/>
<path d="M799.6 397.0L803.2 400.6L799.6 404.2L796.0 400.6Z" fill="#7C9CB0" fill-opacity="0.76" stroke="#222" stroke-opacity="0.6" stroke-width="0.35"/>
<path d="M1165.1 408.9L1168.7 412.5L1165.1 416.1L1161.5 412.5Z" fill="#7C9CB0" fill-opacity="0.76" stroke="#222" stroke-opacity="0.6" stroke-width="0.35"/>
<path d="M616.9 388.9L620.5 392.5L616.9 396.1L613.3 392.5Z" fill="#7771B2" fill-opacity="0.76" stroke="#222" stroke-opacity="0.6" stroke-width="0.35"/>
<path d="M662.6 391.2L666.2 394.8L662.6 398.4L659.0 394.8Z" fill="#7771B2" fill-opacity="0.76" stroke="#222" stroke-opacity="0.6" stroke-width="0.35"/>
<path d="M708.3 396.7L711.9 400.3L708.3 403.9L704.7 400.3Z" fill="#7771B2" fill-opacity="0.76" stroke="#222" stroke-opacity="0.6" stroke-width="0.35"/>
<path d="M753.9 403.6L757.5 407.2L753.9 410.8L750.3 407.2Z" fill="#7771B2" fill-opacity="0.76" stroke="#222" stroke-opacity="0.6" stroke-width="0.35"/>
<path d="M799.6 399.9L803.2 403.5L799.6 407.1L796.0 403.5Z" fill="#7771B2" fill-opacity="0.76" stroke="#222" stroke-opacity="0.6" stroke-width="0.35"/>
<path d="M1165.1 396.7L1168.7 400.3L1165.1 403.9L1161.5 400.3Z" fill="#7771B2" fill-opacity="0.76" stroke="#222" stroke-opacity="0.6" stroke-width="0.35"/>
<path d="M616.9 386.6L620.5 390.2L616.9 393.8L613.3 390.2Z" fill="#4B8951" fill-opacity="0.76" stroke="#222" stroke-opacity="0.6" stroke-width="0.35"/>
<path d="M662.6 390.1L666.2 393.7L662.6 397.3L659.0 393.7Z" fill="#4B8951" fill-opacity="0.76" stroke="#222" stroke-opacity="0.6" stroke-width="0.35"/>
<path d="M708.3 403.6L711.9 407.2L708.3 410.8L704.7 407.2Z" fill="#4B8951" fill-opacity="0.76" stroke="#222" stroke-opacity="0.6" stroke-width="0.35"/>
<path d="M753.9 397.7L757.5 401.3L753.9 404.9L750.3 401.3Z" fill="#4B8951" fill-opacity="0.76" stroke="#222" stroke-opacity="0.6" stroke-width="0.35"/>
<path d="M799.6 391.5L803.2 395.1L799.6 398.7L796.0 395.1Z" fill="#4B8951" fill-opacity="0.76" stroke="#222" stroke-opacity="0.6" stroke-width="0.35"/>
<path d="M1165.1 386.6L1168.7 390.2L1165.1 393.8L1161.5 390.2Z" fill="#4B8951" fill-opacity="0.76" stroke="#222" stroke-opacity="0.6" stroke-width="0.35"/>
<path d="M616.9 385.5L620.5 389.1L616.9 392.7L613.3 389.1Z" fill="#D48A32" fill-opacity="0.76" stroke="#222" stroke-opacity="0.6" stroke-width="0.35"/>
<path d="M662.6 385.9L666.2 389.5L662.6 393.1L659.0 389.5Z" fill="#D48A32" fill-opacity="0.76" stroke="#222" stroke-opacity="0.6" stroke-width="0.35"/>
<path d="M708.3 369.9L711.9 373.5L708.3 377.1L704.7 373.5Z" fill="#D48A32" fill-opacity="0.76" stroke="#222" stroke-opacity="0.6" stroke-width="0.35"/>
<path d="M753.9 364.8L757.5 368.4L753.9 372.0L750.3 368.4Z" fill="#D48A32" fill-opacity="0.76" stroke="#222" stroke-opacity="0.6" stroke-width="0.35"/>
<path d="M799.6 360.9L803.2 364.5L799.6 368.1L796.0 364.5Z" fill="#D48A32" fill-opacity="0.76" stroke="#222" stroke-opacity="0.6" stroke-width="0.35"/>
<path d="M1165.1 351.7L1168.7 355.3L1165.1 358.9L1161.5 355.3Z" fill="#D48A32" fill-opacity="0.76" stroke="#222" stroke-opacity="0.6" stroke-width="0.35"/>
<path d="M616.9 390.8L620.5 394.4L616.9 398.0L613.3 394.4Z" fill="#3E75BA" fill-opacity="0.76" stroke="#222" stroke-opacity="0.6" stroke-width="0.35"/>
<path d="M662.6 391.9L666.2 395.5L662.6 399.1L659.0 395.5Z" fill="#3E75BA" fill-opacity="0.76" stroke="#222" stroke-opacity="0.6" stroke-width="0.35"/>
<path d="M708.3 365.5L711.9 369.1L708.3 372.7L704.7 369.1Z" fill="#3E75BA" fill-opacity="0.76" stroke="#222" stroke-opacity="0.6" stroke-width="0.35"/>
<path d="M753.9 360.2L757.5 363.8L753.9 367.4L750.3 363.8Z" fill="#3E75BA" fill-opacity="0.76" stroke="#222" stroke-opacity="0.6" stroke-width="0.35"/>
<path d="M799.6 356.8L803.2 360.4L799.6 364.0L796.0 360.4Z" fill="#3E75BA" fill-opacity="0.76" stroke="#222" stroke-opacity="0.6" stroke-width="0.35"/>
<path d="M1165.1 345.1L1168.7 348.7L1165.1 352.3L1161.5 348.7Z" fill="#3E75BA" fill-opacity="0.76" stroke="#222" stroke-opacity="0.6" stroke-width="0.35"/>
</g>
<path d="M611.4 293.6V528.9" stroke="#000" stroke-width="1.85" fill="none"/>
<path d="M611.4 525.8h-2.6" stroke="#000" stroke-width="1.5"/>
<text transform="translate(607.7 529.5) rotate(0.05) scale(1 1.05)" font-size="9.7" text-anchor="end" stroke="#000" stroke-width="0.12">0</text>
<path d="M611.4 502.8h-2.6" stroke="#000" stroke-width="1.5"/>
<text transform="translate(607.7 506.5) rotate(0.05) scale(1 1.05)" font-size="9.7" text-anchor="end" stroke="#000" stroke-width="0.12">1</text>
<path d="M611.4 479.8h-2.6" stroke="#000" stroke-width="1.5"/>
<text transform="translate(607.7 483.5) rotate(0.05) scale(1 1.05)" font-size="9.7" text-anchor="end" stroke="#000" stroke-width="0.12">2</text>
<path d="M611.4 456.8h-2.6" stroke="#000" stroke-width="1.5"/>
<text transform="translate(607.7 460.5) rotate(0.05) scale(1 1.05)" font-size="9.7" text-anchor="end" stroke="#000" stroke-width="0.12">3</text>
<path d="M611.4 433.9h-2.6" stroke="#000" stroke-width="1.5"/>
<text transform="translate(607.7 437.5) rotate(0.05) scale(1 1.05)" font-size="9.7" text-anchor="end" stroke="#000" stroke-width="0.12">4</text>
<path d="M611.4 410.9h-2.6" stroke="#000" stroke-width="1.5"/>
<text transform="translate(607.7 414.5) rotate(0.05) scale(1 1.05)" font-size="9.7" text-anchor="end" stroke="#000" stroke-width="0.12">5</text>
<path d="M611.4 387.9h-2.6" stroke="#000" stroke-width="1.5"/>
<text transform="translate(607.7 391.5) rotate(0.05) scale(1 1.05)" font-size="9.7" text-anchor="end" stroke="#000" stroke-width="0.12">6</text>
<path d="M611.4 365.0h-2.6" stroke="#000" stroke-width="1.5"/>
<text transform="translate(607.7 368.5) rotate(0.05) scale(1 1.05)" font-size="9.7" text-anchor="end" stroke="#000" stroke-width="0.12">7</text>
<path d="M611.4 342.0h-2.6" stroke="#000" stroke-width="1.5"/>
<text transform="translate(607.7 345.5) rotate(0.05) scale(1 1.05)" font-size="9.7" text-anchor="end" stroke="#000" stroke-width="0.12">8</text>
<path d="M611.4 319.0h-2.6" stroke="#000" stroke-width="1.5"/>
<text transform="translate(607.7 322.5) rotate(0.05) scale(1 1.05)" font-size="9.7" text-anchor="end" stroke="#000" stroke-width="0.12">9</text>
<path d="M611.4 296.1h-2.6" stroke="#000" stroke-width="1.5"/>
<text transform="translate(607.7 299.5) rotate(0.05) scale(1 1.05)" font-size="9.7" text-anchor="end" stroke="#000" stroke-width="0.12">10</text>
<path d="M610.4 527.9H1170.7" stroke="#000" stroke-width="1.85" fill="none"/>
<path d="M616.9 527.9v2.6" stroke="#000" stroke-width="1.5"/>
<text transform="translate(616.9 539.2) rotate(0.05) scale(1 1.05)" font-size="9.7" text-anchor="middle" stroke="#000" stroke-width="0.12">0</text>
<path d="M708.3 527.9v2.6" stroke="#000" stroke-width="1.5"/>
<text transform="translate(708.3 539.2) rotate(0.05) scale(1 1.05)" font-size="9.7" text-anchor="middle" stroke="#000" stroke-width="0.12">4</text>
<path d="M799.6 527.9v2.6" stroke="#000" stroke-width="1.5"/>
<text transform="translate(799.6 539.2) rotate(0.05) scale(1 1.05)" font-size="9.7" text-anchor="middle" stroke="#000" stroke-width="0.12">8</text>
<path d="M891.0 527.9v2.6" stroke="#000" stroke-width="1.5"/>
<text transform="translate(891.0 539.2) rotate(0.05) scale(1 1.05)" font-size="9.7" text-anchor="middle" stroke="#000" stroke-width="0.12">12</text>
<path d="M982.3 527.9v2.6" stroke="#000" stroke-width="1.5"/>
<text transform="translate(982.3 539.2) rotate(0.05) scale(1 1.05)" font-size="9.7" text-anchor="middle" stroke="#000" stroke-width="0.12">16</text>
<path d="M1073.7 527.9v2.6" stroke="#000" stroke-width="1.5"/>
<text transform="translate(1073.7 539.2) rotate(0.05) scale(1 1.05)" font-size="9.7" text-anchor="middle" stroke="#000" stroke-width="0.12">20</text>
<path d="M1165.1 527.9v2.6" stroke="#000" stroke-width="1.5"/>
<text transform="translate(1165.1 539.2) rotate(0.05) scale(1 1.05)" font-size="9.7" text-anchor="middle" stroke="#000" stroke-width="0.12">24</text>
<text transform="translate(891.3 551.8) rotate(0.05) scale(1 1.05)" font-size="11.7" text-anchor="middle">Time (h)</text>
<polyline points="1192.1,387.9 1237.8,386.1 1283.5,365.6 1329.1,366.3 1374.8,334.4 1740.3,326.8" fill="none" stroke="#A7351F" stroke-width="2.0" stroke-linejoin="round"/>
<polyline points="1192.1,385.6 1237.8,387.0 1283.5,369.1 1329.1,363.4 1374.8,345.0 1740.3,339.0" fill="none" stroke="#3E75BA" stroke-width="2.0" stroke-linejoin="round"/>
<polyline points="1192.1,388.8 1237.8,389.5 1283.5,373.5 1329.1,368.6 1374.8,363.6 1740.3,350.9" fill="none" stroke="#D48A32" stroke-width="2.0" stroke-linejoin="round"/>
<polyline points="1192.1,390.2 1237.8,396.4 1283.5,413.9 1329.1,434.1 1374.8,440.5 1740.3,365.2" fill="none" stroke="#4B8951" stroke-width="2.0" stroke-linejoin="round"/>
<polyline points="1192.1,389.8 1237.8,396.0 1283.5,408.1 1329.1,420.5 1374.8,430.7 1740.3,439.6" fill="none" stroke="#7771B2" stroke-width="2.0" stroke-linejoin="round"/>
<polyline points="1192.1,389.5 1237.8,395.3 1283.5,403.1 1329.1,408.4 1374.8,413.7 1740.3,452.7" fill="none" stroke="#7C9CB0" stroke-width="2.0" stroke-linejoin="round"/>
<polyline points="1192.1,388.6 1237.8,394.8 1283.5,404.5 1329.1,410.2 1374.8,415.5 1740.3,439.6" fill="none" stroke="#F6DB8C" stroke-width="2.0" stroke-linejoin="round"/>
<circle cx="1192.1" cy="387.9" r="3.0" fill="#A7351F" stroke="#222" stroke-width="0.35"/>
<circle cx="1237.8" cy="386.1" r="3.0" fill="#A7351F" stroke="#222" stroke-width="0.35"/>
<circle cx="1283.5" cy="365.6" r="3.0" fill="#A7351F" stroke="#222" stroke-width="0.35"/>
<circle cx="1329.1" cy="366.3" r="3.0" fill="#A7351F" stroke="#222" stroke-width="0.35"/>
<circle cx="1374.8" cy="334.4" r="3.0" fill="#A7351F" stroke="#222" stroke-width="0.35"/>
<circle cx="1740.3" cy="326.8" r="3.0" fill="#A7351F" stroke="#222" stroke-width="0.35"/>
<circle cx="1192.1" cy="388.6" r="3.0" fill="#F6DB8C" stroke="#222" stroke-width="0.35"/>
<circle cx="1237.8" cy="394.8" r="3.0" fill="#F6DB8C" stroke="#222" stroke-width="0.35"/>
<circle cx="1283.5" cy="404.5" r="3.0" fill="#F6DB8C" stroke="#222" stroke-width="0.35"/>
<circle cx="1329.1" cy="410.2" r="3.0" fill="#F6DB8C" stroke="#222" stroke-width="0.35"/>
<circle cx="1374.8" cy="415.5" r="3.0" fill="#F6DB8C" stroke="#222" stroke-width="0.35"/>
<circle cx="1740.3" cy="439.6" r="3.0" fill="#F6DB8C" stroke="#222" stroke-width="0.35"/>
<circle cx="1192.1" cy="389.5" r="3.0" fill="#7C9CB0" stroke="#222" stroke-width="0.35"/>
<circle cx="1237.8" cy="395.3" r="3.0" fill="#7C9CB0" stroke="#222" stroke-width="0.35"/>
<circle cx="1283.5" cy="403.1" r="3.0" fill="#7C9CB0" stroke="#222" stroke-width="0.35"/>
<circle cx="1329.1" cy="408.4" r="3.0" fill="#7C9CB0" stroke="#222" stroke-width="0.35"/>
<circle cx="1374.8" cy="413.7" r="3.0" fill="#7C9CB0" stroke="#222" stroke-width="0.35"/>
<circle cx="1740.3" cy="452.7" r="3.0" fill="#7C9CB0" stroke="#222" stroke-width="0.35"/>
<circle cx="1192.1" cy="389.8" r="3.0" fill="#7771B2" stroke="#222" stroke-width="0.35"/>
<circle cx="1237.8" cy="396.0" r="3.0" fill="#7771B2" stroke="#222" stroke-width="0.35"/>
<circle cx="1283.5" cy="408.1" r="3.0" fill="#7771B2" stroke="#222" stroke-width="0.35"/>
<circle cx="1329.1" cy="420.5" r="3.0" fill="#7771B2" stroke="#222" stroke-width="0.35"/>
<circle cx="1374.8" cy="430.7" r="3.0" fill="#7771B2" stroke="#222" stroke-width="0.35"/>
<circle cx="1740.3" cy="439.6" r="3.0" fill="#7771B2" stroke="#222" stroke-width="0.35"/>
<circle cx="1192.1" cy="390.2" r="3.0" fill="#4B8951" stroke="#222" stroke-width="0.35"/>
<circle cx="1237.8" cy="396.4" r="3.0" fill="#4B8951" stroke="#222" stroke-width="0.35"/>
<circle cx="1283.5" cy="413.9" r="3.0" fill="#4B8951" stroke="#222" stroke-width="0.35"/>
<circle cx="1329.1" cy="434.1" r="3.0" fill="#4B8951" stroke="#222" stroke-width="0.35"/>
<circle cx="1374.8" cy="440.5" r="3.0" fill="#4B8951" stroke="#222" stroke-width="0.35"/>
<circle cx="1740.3" cy="365.2" r="3.0" fill="#4B8951" stroke="#222" stroke-width="0.35"/>
<circle cx="1192.1" cy="388.8" r="3.0" fill="#D48A32" stroke="#222" stroke-width="0.35"/>
<circle cx="1237.8" cy="389.5" r="3.0" fill="#D48A32" stroke="#222" stroke-width="0.35"/>
<circle cx="1283.5" cy="373.5" r="3.0" fill="#D48A32" stroke="#222" stroke-width="0.35"/>
<circle cx="1329.1" cy="368.6" r="3.0" fill="#D48A32" stroke="#222" stroke-width="0.35"/>
<circle cx="1374.8" cy="363.6" r="3.0" fill="#D48A32" stroke="#222" stroke-width="0.35"/>
<circle cx="1740.3" cy="350.9" r="3.0" fill="#D48A32" stroke="#222" stroke-width="0.35"/>
<circle cx="1192.1" cy="385.6" r="3.0" fill="#3E75BA" stroke="#222" stroke-width="0.35"/>
<circle cx="1237.8" cy="387.0" r="3.0" fill="#3E75BA" stroke="#222" stroke-width="0.35"/>
<circle cx="1283.5" cy="369.1" r="3.0" fill="#3E75BA" stroke="#222" stroke-width="0.35"/>
<circle cx="1329.1" cy="363.4" r="3.0" fill="#3E75BA" stroke="#222" stroke-width="0.35"/>
<circle cx="1374.8" cy="345.0" r="3.0" fill="#3E75BA" stroke="#222" stroke-width="0.35"/>
<circle cx="1740.3" cy="339.0" r="3.0" fill="#3E75BA" stroke="#222" stroke-width="0.35"/>
<g>
<polyline points="1192.1,381.0 1237.8,362.0 1283.5,348.2 1329.1,362.0 1374.8,362.7 1740.3,346.6" fill="none" stroke="#A7351F" stroke-width="2.0" stroke-dasharray="8.4 8.4" stroke-opacity="0.76"/>
<polyline points="1192.1,386.6 1237.8,366.8 1283.5,348.2 1329.1,356.7 1374.8,361.3 1740.3,356.9" fill="none" stroke="#3E75BA" stroke-width="2.0" stroke-dasharray="8.4 8.4" stroke-opacity="0.76"/>
<polyline points="1192.1,396.7 1237.8,366.1 1283.5,365.6 1329.1,357.2 1374.8,357.6 1740.3,352.8" fill="none" stroke="#D48A32" stroke-width="2.0" stroke-dasharray="8.4 8.4" stroke-opacity="0.76"/>
<polyline points="1192.1,387.9 1237.8,388.8 1283.5,405.8 1329.1,402.2 1374.8,393.9 1740.3,406.3" fill="none" stroke="#4B8951" stroke-width="2.0" stroke-dasharray="8.4 8.4" stroke-opacity="0.76"/>
<polyline points="1192.1,394.8 1237.8,393.0 1283.5,400.6 1329.1,415.0 1374.8,407.0 1740.3,400.1" fill="none" stroke="#7771B2" stroke-width="2.0" stroke-dasharray="8.4 8.4" stroke-opacity="0.76"/>
<polyline points="1192.1,390.2 1237.8,393.7 1283.5,397.1 1329.1,407.5 1374.8,408.6 1740.3,393.7" fill="none" stroke="#7C9CB0" stroke-width="2.0" stroke-dasharray="8.4 8.4" stroke-opacity="0.76"/>
<polyline points="1192.1,390.2 1237.8,397.1 1283.5,408.6 1329.1,410.9 1374.8,414.3 1740.3,419.2" fill="none" stroke="#F6DB8C" stroke-width="2.0" stroke-dasharray="8.4 8.4" stroke-opacity="0.76"/>
<path d="M1192.1 377.4L1195.7 381.0L1192.1 384.6L1188.5 381.0Z" fill="#A7351F" fill-opacity="0.76" stroke="#222" stroke-opacity="0.6" stroke-width="0.35"/>
<path d="M1237.8 358.4L1241.4 362.0L1237.8 365.6L1234.2 362.0Z" fill="#A7351F" fill-opacity="0.76" stroke="#222" stroke-opacity="0.6" stroke-width="0.35"/>
<path d="M1283.5 344.6L1287.1 348.2L1283.5 351.8L1279.9 348.2Z" fill="#A7351F" fill-opacity="0.76" stroke="#222" stroke-opacity="0.6" stroke-width="0.35"/>
<path d="M1329.1 358.4L1332.7 362.0L1329.1 365.6L1325.5 362.0Z" fill="#A7351F" fill-opacity="0.76" stroke="#222" stroke-opacity="0.6" stroke-width="0.35"/>
<path d="M1374.8 359.1L1378.4 362.7L1374.8 366.3L1371.2 362.7Z" fill="#A7351F" fill-opacity="0.76" stroke="#222" stroke-opacity="0.6" stroke-width="0.35"/>
<path d="M1740.3 343.0L1743.9 346.6L1740.3 350.2L1736.7 346.6Z" fill="#A7351F" fill-opacity="0.76" stroke="#222" stroke-opacity="0.6" stroke-width="0.35"/>
<path d="M1192.1 386.6L1195.7 390.2L1192.1 393.8L1188.5 390.2Z" fill="#F6DB8C" fill-opacity="0.76" stroke="#222" stroke-opacity="0.6" stroke-width="0.35"/>
<path d="M1237.8 393.5L1241.4 397.1L1237.8 400.7L1234.2 397.1Z" fill="#F6DB8C" fill-opacity="0.76" stroke="#222" stroke-opacity="0.6" stroke-width="0.35"/>
<path d="M1283.5 405.0L1287.1 408.6L1283.5 412.2L1279.9 408.6Z" fill="#F6DB8C" fill-opacity="0.76" stroke="#222" stroke-opacity="0.6" stroke-width="0.35"/>
<path d="M1329.1 407.3L1332.7 410.9L1329.1 414.5L1325.5 410.9Z" fill="#F6DB8C" fill-opacity="0.76" stroke="#222" stroke-opacity="0.6" stroke-width="0.35"/>
<path d="M1374.8 410.7L1378.4 414.3L1374.8 417.9L1371.2 414.3Z" fill="#F6DB8C" fill-opacity="0.76" stroke="#222" stroke-opacity="0.6" stroke-width="0.35"/>
<path d="M1740.3 415.6L1743.9 419.2L1740.3 422.8L1736.7 419.2Z" fill="#F6DB8C" fill-opacity="0.76" stroke="#222" stroke-opacity="0.6" stroke-width="0.35"/>
<path d="M1192.1 386.6L1195.7 390.2L1192.1 393.8L1188.5 390.2Z" fill="#7C9CB0" fill-opacity="0.76" stroke="#222" stroke-opacity="0.6" stroke-width="0.35"/>
<path d="M1237.8 390.1L1241.4 393.7L1237.8 397.3L1234.2 393.7Z" fill="#7C9CB0" fill-opacity="0.76" stroke="#222" stroke-opacity="0.6" stroke-width="0.35"/>
<path d="M1283.5 393.5L1287.1 397.1L1283.5 400.7L1279.9 397.1Z" fill="#7C9CB0" fill-opacity="0.76" stroke="#222" stroke-opacity="0.6" stroke-width="0.35"/>
<path d="M1329.1 403.9L1332.7 407.5L1329.1 411.1L1325.5 407.5Z" fill="#7C9CB0" fill-opacity="0.76" stroke="#222" stroke-opacity="0.6" stroke-width="0.35"/>
<path d="M1374.8 405.0L1378.4 408.6L1374.8 412.2L1371.2 408.6Z" fill="#7C9CB0" fill-opacity="0.76" stroke="#222" stroke-opacity="0.6" stroke-width="0.35"/>
<path d="M1740.3 390.1L1743.9 393.7L1740.3 397.3L1736.7 393.7Z" fill="#7C9CB0" fill-opacity="0.76" stroke="#222" stroke-opacity="0.6" stroke-width="0.35"/>
<path d="M1192.1 391.2L1195.7 394.8L1192.1 398.4L1188.5 394.8Z" fill="#7771B2" fill-opacity="0.76" stroke="#222" stroke-opacity="0.6" stroke-width="0.35"/>
<path d="M1237.8 389.4L1241.4 393.0L1237.8 396.6L1234.2 393.0Z" fill="#7771B2" fill-opacity="0.76" stroke="#222" stroke-opacity="0.6" stroke-width="0.35"/>
<path d="M1283.5 397.0L1287.1 400.6L1283.5 404.2L1279.9 400.6Z" fill="#7771B2" fill-opacity="0.76" stroke="#222" stroke-opacity="0.6" stroke-width="0.35"/>
<path d="M1329.1 411.4L1332.7 415.0L1329.1 418.6L1325.5 415.0Z" fill="#7771B2" fill-opacity="0.76" stroke="#222" stroke-opacity="0.6" stroke-width="0.35"/>
<path d="M1374.8 403.4L1378.4 407.0L1374.8 410.6L1371.2 407.0Z" fill="#7771B2" fill-opacity="0.76" stroke="#222" stroke-opacity="0.6" stroke-width="0.35"/>
<path d="M1740.3 396.5L1743.9 400.1L1740.3 403.7L1736.7 400.1Z" fill="#7771B2" fill-opacity="0.76" stroke="#222" stroke-opacity="0.6" stroke-width="0.35"/>
<path d="M1192.1 384.3L1195.7 387.9L1192.1 391.5L1188.5 387.9Z" fill="#4B8951" fill-opacity="0.76" stroke="#222" stroke-opacity="0.6" stroke-width="0.35"/>
<path d="M1237.8 385.2L1241.4 388.8L1237.8 392.4L1234.2 388.8Z" fill="#4B8951" fill-opacity="0.76" stroke="#222" stroke-opacity="0.6" stroke-width="0.35"/>
<path d="M1283.5 402.2L1287.1 405.8L1283.5 409.4L1279.9 405.8Z" fill="#4B8951" fill-opacity="0.76" stroke="#222" stroke-opacity="0.6" stroke-width="0.35"/>
<path d="M1329.1 398.6L1332.7 402.2L1329.1 405.8L1325.5 402.2Z" fill="#4B8951" fill-opacity="0.76" stroke="#222" stroke-opacity="0.6" stroke-width="0.35"/>
<path d="M1374.8 390.3L1378.4 393.9L1374.8 397.5L1371.2 393.9Z" fill="#4B8951" fill-opacity="0.76" stroke="#222" stroke-opacity="0.6" stroke-width="0.35"/>
<path d="M1740.3 402.7L1743.9 406.3L1740.3 409.9L1736.7 406.3Z" fill="#4B8951" fill-opacity="0.76" stroke="#222" stroke-opacity="0.6" stroke-width="0.35"/>
<path d="M1192.1 393.1L1195.7 396.7L1192.1 400.3L1188.5 396.7Z" fill="#D48A32" fill-opacity="0.76" stroke="#222" stroke-opacity="0.6" stroke-width="0.35"/>
<path d="M1237.8 362.5L1241.4 366.1L1237.8 369.7L1234.2 366.1Z" fill="#D48A32" fill-opacity="0.76" stroke="#222" stroke-opacity="0.6" stroke-width="0.35"/>
<path d="M1283.5 362.0L1287.1 365.6L1283.5 369.2L1279.9 365.6Z" fill="#D48A32" fill-opacity="0.76" stroke="#222" stroke-opacity="0.6" stroke-width="0.35"/>
<path d="M1329.1 353.6L1332.7 357.2L1329.1 360.8L1325.5 357.2Z" fill="#D48A32" fill-opacity="0.76" stroke="#222" stroke-opacity="0.6" stroke-width="0.35"/>
<path d="M1374.8 354.0L1378.4 357.6L1374.8 361.2L1371.2 357.6Z" fill="#D48A32" fill-opacity="0.76" stroke="#222" stroke-opacity="0.6" stroke-width="0.35"/>
<path d="M1740.3 349.2L1743.9 352.8L1740.3 356.4L1736.7 352.8Z" fill="#D48A32" fill-opacity="0.76" stroke="#222" stroke-opacity="0.6" stroke-width="0.35"/>
<path d="M1192.1 383.0L1195.7 386.6L1192.1 390.2L1188.5 386.6Z" fill="#3E75BA" fill-opacity="0.76" stroke="#222" stroke-opacity="0.6" stroke-width="0.35"/>
<path d="M1237.8 363.2L1241.4 366.8L1237.8 370.4L1234.2 366.8Z" fill="#3E75BA" fill-opacity="0.76" stroke="#222" stroke-opacity="0.6" stroke-width="0.35"/>
<path d="M1283.5 344.6L1287.1 348.2L1283.5 351.8L1279.9 348.2Z" fill="#3E75BA" fill-opacity="0.76" stroke="#222" stroke-opacity="0.6" stroke-width="0.35"/>
<path d="M1329.1 353.1L1332.7 356.7L1329.1 360.3L1325.5 356.7Z" fill="#3E75BA" fill-opacity="0.76" stroke="#222" stroke-opacity="0.6" stroke-width="0.35"/>
<path d="M1374.8 357.7L1378.4 361.3L1374.8 364.9L1371.2 361.3Z" fill="#3E75BA" fill-opacity="0.76" stroke="#222" stroke-opacity="0.6" stroke-width="0.35"/>
<path d="M1740.3 353.3L1743.9 356.9L1740.3 360.5L1736.7 356.9Z" fill="#3E75BA" fill-opacity="0.76" stroke="#222" stroke-opacity="0.6" stroke-width="0.35"/>
</g>
<path d="M1186.5 293.6V528.9" stroke="#000" stroke-width="1.85" fill="none"/>
<path d="M1186.5 525.8h-2.6" stroke="#000" stroke-width="1.5"/>
<text transform="translate(1182.8 529.5) rotate(0.05) scale(1 1.05)" font-size="9.7" text-anchor="end" stroke="#000" stroke-width="0.12">0</text>
<path d="M1186.5 502.8h-2.6" stroke="#000" stroke-width="1.5"/>
<text transform="translate(1182.8 506.5) rotate(0.05) scale(1 1.05)" font-size="9.7" text-anchor="end" stroke="#000" stroke-width="0.12">1</text>
<path d="M1186.5 479.8h-2.6" stroke="#000" stroke-width="1.5"/>
<text transform="translate(1182.8 483.5) rotate(0.05) scale(1 1.05)" font-size="9.7" text-anchor="end" stroke="#000" stroke-width="0.12">2</text>
<path d="M1186.5 456.8h-2.6" stroke="#000" stroke-width="1.5"/>
<text transform="translate(1182.8 460.5) rotate(0.05) scale(1 1.05)" font-size="9.7" text-anchor="end" stroke="#000" stroke-width="0.12">3</text>
<path d="M1186.5 433.9h-2.6" stroke="#000" stroke-width="1.5"/>
<text transform="translate(1182.8 437.5) rotate(0.05) scale(1 1.05)" font-size="9.7" text-anchor="end" stroke="#000" stroke-width="0.12">4</text>
<path d="M1186.5 410.9h-2.6" stroke="#000" stroke-width="1.5"/>
<text transform="translate(1182.8 414.5) rotate(0.05) scale(1 1.05)" font-size="9.7" text-anchor="end" stroke="#000" stroke-width="0.12">5</text>
<path d="M1186.5 387.9h-2.6" stroke="#000" stroke-width="1.5"/>
<text transform="translate(1182.8 391.5) rotate(0.05) scale(1 1.05)" font-size="9.7" text-anchor="end" stroke="#000" stroke-width="0.12">6</text>
<path d="M1186.5 365.0h-2.6" stroke="#000" stroke-width="1.5"/>
<text transform="translate(1182.8 368.5) rotate(0.05) scale(1 1.05)" font-size="9.7" text-anchor="end" stroke="#000" stroke-width="0.12">7</text>
<path d="M1186.5 342.0h-2.6" stroke="#000" stroke-width="1.5"/>
<text transform="translate(1182.8 345.5) rotate(0.05) scale(1 1.05)" font-size="9.7" text-anchor="end" stroke="#000" stroke-width="0.12">8</text>
<path d="M1186.5 319.0h-2.6" stroke="#000" stroke-width="1.5"/>
<text transform="translate(1182.8 322.5) rotate(0.05) scale(1 1.05)" font-size="9.7" text-anchor="end" stroke="#000" stroke-width="0.12">9</text>
<path d="M1186.5 296.1h-2.6" stroke="#000" stroke-width="1.5"/>
<text transform="translate(1182.8 299.5) rotate(0.05) scale(1 1.05)" font-size="9.7" text-anchor="end" stroke="#000" stroke-width="0.12">10</text>
<path d="M1185.5 527.9H1746.0" stroke="#000" stroke-width="1.85" fill="none"/>
<path d="M1192.1 527.9v2.6" stroke="#000" stroke-width="1.5"/>
<text transform="translate(1192.1 539.2) rotate(0.05) scale(1 1.05)" font-size="9.7" text-anchor="middle" stroke="#000" stroke-width="0.12">0</text>
<path d="M1283.5 527.9v2.6" stroke="#000" stroke-width="1.5"/>
<text transform="translate(1283.5 539.2) rotate(0.05) scale(1 1.05)" font-size="9.7" text-anchor="middle" stroke="#000" stroke-width="0.12">4</text>
<path d="M1374.8 527.9v2.6" stroke="#000" stroke-width="1.5"/>
<text transform="translate(1374.8 539.2) rotate(0.05) scale(1 1.05)" font-size="9.7" text-anchor="middle" stroke="#000" stroke-width="0.12">8</text>
<path d="M1466.2 527.9v2.6" stroke="#000" stroke-width="1.5"/>
<text transform="translate(1466.2 539.2) rotate(0.05) scale(1 1.05)" font-size="9.7" text-anchor="middle" stroke="#000" stroke-width="0.12">12</text>
<path d="M1557.5 527.9v2.6" stroke="#000" stroke-width="1.5"/>
<text transform="translate(1557.5 539.2) rotate(0.05) scale(1 1.05)" font-size="9.7" text-anchor="middle" stroke="#000" stroke-width="0.12">16</text>
<path d="M1648.9 527.9v2.6" stroke="#000" stroke-width="1.5"/>
<text transform="translate(1648.9 539.2) rotate(0.05) scale(1 1.05)" font-size="9.7" text-anchor="middle" stroke="#000" stroke-width="0.12">20</text>
<path d="M1740.3 527.9v2.6" stroke="#000" stroke-width="1.5"/>
<text transform="translate(1740.3 539.2) rotate(0.05) scale(1 1.05)" font-size="9.7" text-anchor="middle" stroke="#000" stroke-width="0.12">24</text>
<text transform="translate(1466.5 551.8) rotate(0.05) scale(1 1.05)" font-size="11.7" text-anchor="middle">Time (h)</text>
<text x="297.3" y="17.6" font-size="20.5" text-anchor="middle">Co-culture with β-lactamase-negative <tspan font-style="italic">E. coli</tspan></text>
<text x="875.8" y="17.6" font-size="20.5" text-anchor="middle">Co-culture with Narrow-spectrum β-lactamase <tspan font-style="italic">E. coli</tspan></text>
<text x="1469.4" y="17.6" font-size="20.5" text-anchor="middle">Co-culture with KPC-<tspan font-style="italic">E. coli</tspan></text>
<text transform="translate(12.0 287.8) rotate(-90) scale(1 1.12)" font-size="12.1" text-anchor="middle" word-spacing="0.5">Total <tspan font-style="italic" font-weight="normal">S. aureus</tspan> Counts (log<tspan font-size="8.3" font-weight="normal" dy="2">10</tspan><tspan dy="-2"> CFU/mL)</tspan></text>
<text transform="translate(1757.6 163.1) rotate(90)" font-size="16.75" text-anchor="middle"><tspan font-style="italic">S. Aureus</tspan> AR Bank #0484</text>
<text transform="translate(1757.6 416.5) rotate(90)" font-size="16.5" text-anchor="middle"><tspan font-style="italic">S. Aureus</tspan> ATCC25923</text>
<text x="782.2" y="598.8" font-size="22.4">Cefazolin</text>
<path d="M788.2 622.5H842.8" stroke="#A7351F" stroke-width="4.4"/>
<path d="M815.9 614.3L824.3 622.7L815.9 631.1L807.5 622.7Z" fill="#A7351F" stroke="#111" stroke-width="0.6"/>
<text x="861.0" y="630.6" font-size="21.7">Control</text>
<path d="M788.2 643.1H842.8" stroke="#3E75BA" stroke-width="4.4"/>
<path d="M815.9 634.9L824.3 643.3L815.9 651.7L807.5 643.3Z" fill="#3E75BA" stroke="#111" stroke-width="0.6"/>
<text x="861.0" y="651.2" font-size="21.7">0.0156 mg/L</text>
<path d="M788.2 663.7H842.8" stroke="#D48A32" stroke-width="4.4"/>
<path d="M815.9 655.5L824.3 663.9L815.9 672.3L807.5 663.9Z" fill="#D48A32" stroke="#111" stroke-width="0.6"/>
<text x="861.0" y="671.8" font-size="21.7">0.0625 mg/L</text>
<path d="M788.2 684.3H842.8" stroke="#4B8951" stroke-width="4.4"/>
<path d="M815.9 676.1L824.3 684.5L815.9 692.9L807.5 684.5Z" fill="#4B8951" stroke="#111" stroke-width="0.6"/>
<text x="861.0" y="692.4" font-size="21.7">0.25 mg/L</text>
<path d="M788.2 704.9H842.8" stroke="#7771B2" stroke-width="4.4"/>
<path d="M815.9 696.7L824.3 705.1L815.9 713.5L807.5 705.1Z" fill="#7771B2" stroke="#111" stroke-width="0.6"/>
<text x="861.0" y="713.0" font-size="21.7">1 mg/L</text>
<path d="M788.2 725.5H842.8" stroke="#7C9CB0" stroke-width="4.4"/>
<path d="M815.9 717.3L824.3 725.7L815.9 734.1L807.5 725.7Z" fill="#7C9CB0" stroke="#111" stroke-width="0.6"/>
<text x="861.0" y="733.6" font-size="21.7">4 mg/L</text>
<path d="M788.2 746.1H842.8" stroke="#F6DB8C" stroke-width="4.4"/>
<path d="M815.9 737.9L824.3 746.3L815.9 754.7L807.5 746.3Z" fill="#F6DB8C" stroke="#111" stroke-width="0.6"/>
<text x="861.0" y="754.2" font-size="21.7">16 mg/L</text>
</svg>
</body></html>
